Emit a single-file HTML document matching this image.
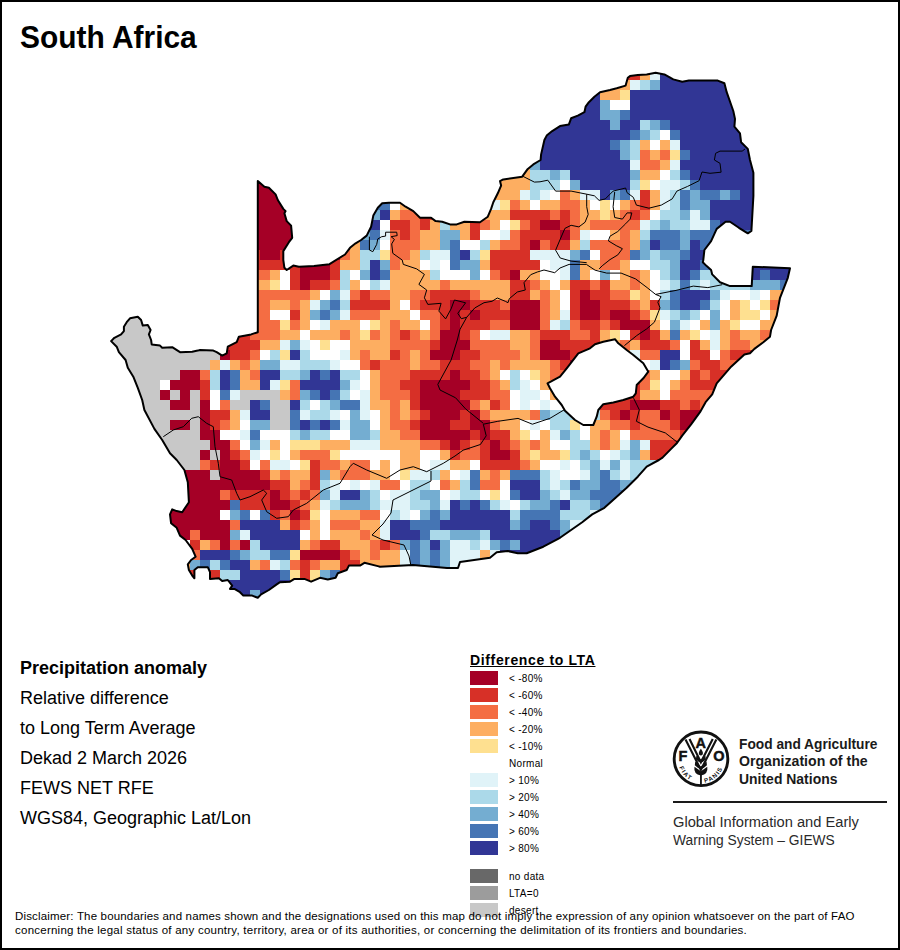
<!DOCTYPE html>
<html><head><meta charset="utf-8">
<style>
html,body{margin:0;padding:0;background:#fff;}
body{width:900px;height:950px;position:relative;overflow:hidden;font-family:"Liberation Sans",sans-serif;color:#000;}
.frame{position:absolute;left:0;top:0;width:896px;height:946px;border:2px solid #000;}
.t{position:absolute;white-space:nowrap;line-height:1;}
.sw{position:absolute;left:470px;width:28px;height:14px;}
.lab{position:absolute;left:509px;font-size:10px;letter-spacing:0.3px;white-space:nowrap;line-height:1;}
</style></head><body>
<div class="frame"></div>
<div class="t" style="left:20px;top:22px;font-size:31px;font-weight:bold;transform:scaleX(0.965);transform-origin:0 0;">South Africa</div>
<svg width="900" height="950" style="position:absolute;left:0;top:0">
<defs><clipPath id="cp"><path clip-rule="evenodd" d="M111.1,341.1 L114.4,337.8 L121.1,334.4 L123.9,331.1 L123.9,326.7 L126.7,322.2 L130.0,318.3 L137.8,316.7 L141.1,320.0 L142.8,325.6 L147.8,325.0 L150.6,330.0 L148.9,334.4 L151.1,340.0 L151.7,344.4 L160.0,345.6 L162.2,347.8 L172.2,347.2 L180.0,352.2 L192.2,351.7 L197.8,350.6 L200.0,350.0 L213.3,350.6 L216.7,352.2 L222.2,355.6 L226.7,353.3 L227.8,346.7 L236.7,342.2 L238.9,336.7 L251.1,334.4 L257.8,332.2 L257.8,181.1 L264.4,186.7 L268.9,187.8 L275.6,194.4 L277.8,200.0 L283.3,208.9 L285.6,211.1 L284.4,213.3 L286.7,221.1 L291.1,225.6 L292.2,237.8 L288.9,242.2 L283.3,251.1 L283.3,260.0 L284.4,267.8 L286.7,270.0 L293.3,265.6 L298.9,266.7 L314.0,266.0 L329.5,264.2 L345.0,254.5 L350.0,247.8 L355.6,243.3 L361.1,240.0 L366.7,235.6 L371.1,226.7 L373.3,215.6 L377.8,207.8 L382.2,203.3 L388.9,202.8 L400.0,202.8 L405.6,206.7 L413.3,211.1 L420.0,217.8 L431.1,217.8 L435.6,221.1 L442.2,221.7 L450.0,224.4 L456.7,224.4 L464.4,221.7 L480.0,222.2 L487.8,216.7 L491.1,208.9 L493.3,202.2 L497.8,193.3 L501.1,185.6 L500.0,181.1 L503.3,179.4 L522.2,176.7 L527.8,168.9 L533.3,164.4 L540.6,160.0 L541.1,154.4 L544.4,140.0 L546.7,135.6 L552.2,131.1 L560.0,126.1 L568.9,124.4 L571.1,118.3 L577.8,115.6 L584.4,112.2 L585.6,106.7 L588.9,102.2 L594.4,96.7 L600.0,92.2 L610.0,90.0 L616.7,88.3 L625.6,85.6 L627.8,77.8 L630.0,76.1 L637.8,75.0 L646.7,74.4 L655.6,72.8 L664.4,74.4 L673.3,79.4 L682.2,81.7 L688.9,80.6 L700.0,80.6 L710.0,80.5 L717.8,80.6 L724.4,83.3 L726.7,92.2 L733.3,111.0 L735.0,118.9 L734.4,126.7 L740.0,133.3 L741.1,142.2 L747.8,148.9 L750.0,160.0 L753.4,172.8 L753.4,196.0 L751.4,231.0 L747.8,233.3 L738.9,227.8 L730.0,221.7 L725.6,221.7 L716.7,228.9 L711.1,241.1 L704.4,250.0 L703.3,260.0 L702.8,262.2 L706.7,266.1 L711.1,270.0 L712.2,274.4 L720.0,282.2 L730.0,286.1 L751.7,286.1 L752.8,266.7 L790.0,268.3 L787.8,277.8 L780.0,297.8 L776.7,315.6 L771.1,330.0 L770.0,336.7 L763.3,342.2 L754.4,348.9 L750.0,353.3 L744.4,354.4 L731.1,366.7 L716.7,383.3 L712.2,394.4 L705.6,402.2 L700.0,412.2 L691.1,424.4 L682.2,435.6 L677.0,443.0 L671.1,448.9 L662.5,457.6 L658.9,460.0 L646.7,466.7 L637.8,476.7 L626.7,487.8 L615.6,497.8 L604.4,507.8 L592.2,514.4 L582.2,522.2 L571.1,530.0 L560.0,537.8 L543.3,546.7 L526.7,553.3 L517.8,553.3 L507.8,551.1 L496.7,552.2 L490.0,557.8 L460.0,562.0 L458.0,568.0 L447.0,568.0 L413.0,565.0 L380.0,566.7 L377.8,566.1 L364.4,562.8 L360.0,565.6 L348.9,565.6 L346.7,570.0 L337.8,573.3 L335.6,577.8 L327.8,579.4 L320.0,577.8 L311.1,581.7 L304.4,578.9 L294.4,578.9 L290.0,581.7 L280.0,582.2 L276.7,584.4 L268.9,590.0 L261.1,594.4 L257.8,597.8 L252.2,595.6 L243.3,595.6 L240.0,592.2 L234.4,588.9 L230.0,588.9 L232.2,585.6 L227.8,580.0 L222.2,581.1 L218.9,578.3 L210.0,578.9 L210.0,572.2 L207.8,567.2 L197.8,567.2 L194.4,570.0 L194.4,578.3 L192.2,575.6 L188.9,570.0 L187.8,564.4 L191.1,560.0 L195.6,556.7 L192.2,548.9 L185.6,540.0 L180.0,535.6 L176.7,527.8 L171.1,523.3 L170.0,514.4 L172.2,509.4 L176.7,511.1 L182.2,512.2 L188.9,502.2 L187.8,482.2 L184.4,470.0 L176.7,460.0 L170.0,453.3 L162.2,440.0 L154.4,428.9 L144.4,410.0 L142.2,400.0 L137.8,387.8 L133.3,376.7 L127.8,367.8 L125.6,360.0 L118.9,352.2 L116.7,346.7 Z M547.5,383.3 L560.0,376.7 L566.7,368.3 L578.3,353.3 L590.0,348.3 L595.0,344.2 L603.3,341.7 L615.0,339.2 L618.3,343.3 L626.7,350.0 L633.3,355.0 L643.3,363.3 L648.3,371.7 L643.3,378.3 L636.7,385.0 L635.8,393.3 L633.3,396.7 L623.3,400.0 L613.3,402.5 L603.3,404.2 L598.3,410.0 L596.7,416.7 L593.3,425.0 L583.3,425.0 L575.0,420.0 L565.0,410.8 L561.7,405.0 L555.0,396.7 L550.0,388.3 Z"/></clipPath></defs>
<g clip-path="url(#cp)" shape-rendering="crispEdges"><rect x="100" y="60" width="250" height="10" fill="#a50026"/><rect x="350" y="60" width="40" height="10" fill="#4575b4"/><rect x="390" y="60" width="10" height="10" fill="#ffffff"/><rect x="400" y="60" width="400" height="10" fill="#313695"/><rect x="100" y="70" width="250" height="10" fill="#a50026"/><rect x="350" y="70" width="40" height="10" fill="#4575b4"/><rect x="390" y="70" width="10" height="10" fill="#ffffff"/><rect x="400" y="70" width="10" height="10" fill="#fdae61"/><rect x="410" y="70" width="190" height="10" fill="#313695"/><rect x="600" y="70" width="20" height="10" fill="#fdae61"/><rect x="620" y="70" width="20" height="10" fill="#d73027"/><rect x="640" y="70" width="10" height="10" fill="#fdae61"/><rect x="650" y="70" width="10" height="10" fill="#e0f3f8"/><rect x="660" y="70" width="140" height="10" fill="#313695"/><rect x="100" y="80" width="250" height="10" fill="#a50026"/><rect x="350" y="80" width="40" height="10" fill="#4575b4"/><rect x="390" y="80" width="10" height="10" fill="#ffffff"/><rect x="400" y="80" width="20" height="10" fill="#fdae61"/><rect x="420" y="80" width="180" height="10" fill="#313695"/><rect x="600" y="80" width="30" height="10" fill="#fdae61"/><rect x="630" y="80" width="10" height="10" fill="#e0f3f8"/><rect x="640" y="80" width="10" height="10" fill="#abd9e9"/><rect x="650" y="80" width="10" height="10" fill="#74add1"/><rect x="660" y="80" width="140" height="10" fill="#313695"/><rect x="100" y="90" width="250" height="10" fill="#a50026"/><rect x="350" y="90" width="40" height="10" fill="#4575b4"/><rect x="390" y="90" width="10" height="10" fill="#ffffff"/><rect x="400" y="90" width="30" height="10" fill="#fdae61"/><rect x="430" y="90" width="170" height="10" fill="#313695"/><rect x="600" y="90" width="20" height="10" fill="#fdae61"/><rect x="620" y="90" width="10" height="10" fill="#fee090"/><rect x="630" y="90" width="170" height="10" fill="#313695"/><rect x="100" y="100" width="250" height="10" fill="#a50026"/><rect x="350" y="100" width="40" height="10" fill="#4575b4"/><rect x="390" y="100" width="10" height="10" fill="#ffffff"/><rect x="400" y="100" width="40" height="10" fill="#fdae61"/><rect x="440" y="100" width="160" height="10" fill="#313695"/><rect x="600" y="100" width="10" height="10" fill="#74add1"/><rect x="610" y="100" width="20" height="10" fill="#ffffff"/><rect x="630" y="100" width="170" height="10" fill="#313695"/><rect x="100" y="110" width="250" height="10" fill="#a50026"/><rect x="350" y="110" width="40" height="10" fill="#4575b4"/><rect x="390" y="110" width="10" height="10" fill="#ffffff"/><rect x="400" y="110" width="50" height="10" fill="#fdae61"/><rect x="450" y="110" width="150" height="10" fill="#313695"/><rect x="600" y="110" width="20" height="10" fill="#74add1"/><rect x="620" y="110" width="10" height="10" fill="#4575b4"/><rect x="630" y="110" width="170" height="10" fill="#313695"/><rect x="100" y="120" width="250" height="10" fill="#a50026"/><rect x="350" y="120" width="40" height="10" fill="#4575b4"/><rect x="390" y="120" width="10" height="10" fill="#ffffff"/><rect x="400" y="120" width="60" height="10" fill="#fdae61"/><rect x="460" y="120" width="150" height="10" fill="#313695"/><rect x="610" y="120" width="10" height="10" fill="#74add1"/><rect x="620" y="120" width="20" height="10" fill="#313695"/><rect x="640" y="120" width="10" height="10" fill="#abd9e9"/><rect x="650" y="120" width="10" height="10" fill="#74add1"/><rect x="660" y="120" width="10" height="10" fill="#4575b4"/><rect x="670" y="120" width="130" height="10" fill="#313695"/><rect x="100" y="130" width="250" height="10" fill="#a50026"/><rect x="350" y="130" width="40" height="10" fill="#4575b4"/><rect x="390" y="130" width="10" height="10" fill="#ffffff"/><rect x="400" y="130" width="70" height="10" fill="#fdae61"/><rect x="470" y="130" width="160" height="10" fill="#313695"/><rect x="630" y="130" width="10" height="10" fill="#4575b4"/><rect x="640" y="130" width="10" height="10" fill="#74add1"/><rect x="650" y="130" width="10" height="10" fill="#abd9e9"/><rect x="660" y="130" width="10" height="10" fill="#ffffff"/><rect x="670" y="130" width="10" height="10" fill="#4575b4"/><rect x="680" y="130" width="120" height="10" fill="#313695"/><rect x="100" y="140" width="250" height="10" fill="#a50026"/><rect x="350" y="140" width="40" height="10" fill="#4575b4"/><rect x="390" y="140" width="10" height="10" fill="#ffffff"/><rect x="400" y="140" width="80" height="10" fill="#fdae61"/><rect x="480" y="140" width="130" height="10" fill="#313695"/><rect x="610" y="140" width="10" height="10" fill="#4575b4"/><rect x="620" y="140" width="10" height="10" fill="#74add1"/><rect x="630" y="140" width="10" height="10" fill="#abd9e9"/><rect x="640" y="140" width="10" height="10" fill="#fdae61"/><rect x="650" y="140" width="10" height="10" fill="#ffffff"/><rect x="660" y="140" width="10" height="10" fill="#fdae61"/><rect x="670" y="140" width="10" height="10" fill="#e0f3f8"/><rect x="680" y="140" width="120" height="10" fill="#313695"/><rect x="100" y="150" width="10" height="10" fill="#d73027"/><rect x="110" y="150" width="240" height="10" fill="#a50026"/><rect x="350" y="150" width="40" height="10" fill="#4575b4"/><rect x="390" y="150" width="10" height="10" fill="#ffffff"/><rect x="400" y="150" width="90" height="10" fill="#fdae61"/><rect x="490" y="150" width="130" height="10" fill="#313695"/><rect x="620" y="150" width="10" height="10" fill="#74add1"/><rect x="630" y="150" width="10" height="10" fill="#abd9e9"/><rect x="640" y="150" width="10" height="10" fill="#f46d43"/><rect x="650" y="150" width="10" height="10" fill="#fdae61"/><rect x="660" y="150" width="10" height="10" fill="#f46d43"/><rect x="670" y="150" width="10" height="10" fill="#fee090"/><rect x="680" y="150" width="10" height="10" fill="#4575b4"/><rect x="690" y="150" width="110" height="10" fill="#313695"/><rect x="100" y="160" width="30" height="10" fill="#d73027"/><rect x="130" y="160" width="220" height="10" fill="#a50026"/><rect x="350" y="160" width="40" height="10" fill="#4575b4"/><rect x="390" y="160" width="10" height="10" fill="#ffffff"/><rect x="400" y="160" width="130" height="10" fill="#fdae61"/><rect x="530" y="160" width="10" height="10" fill="#74add1"/><rect x="540" y="160" width="90" height="10" fill="#313695"/><rect x="630" y="160" width="10" height="10" fill="#e0f3f8"/><rect x="640" y="160" width="20" height="10" fill="#f46d43"/><rect x="660" y="160" width="10" height="10" fill="#fdae61"/><rect x="670" y="160" width="10" height="10" fill="#e0f3f8"/><rect x="680" y="160" width="120" height="10" fill="#313695"/><rect x="100" y="170" width="50" height="10" fill="#d73027"/><rect x="150" y="170" width="200" height="10" fill="#a50026"/><rect x="350" y="170" width="40" height="10" fill="#4575b4"/><rect x="390" y="170" width="10" height="10" fill="#ffffff"/><rect x="400" y="170" width="130" height="10" fill="#fdae61"/><rect x="530" y="170" width="20" height="10" fill="#abd9e9"/><rect x="550" y="170" width="10" height="10" fill="#74add1"/><rect x="560" y="170" width="10" height="10" fill="#abd9e9"/><rect x="570" y="170" width="60" height="10" fill="#313695"/><rect x="630" y="170" width="10" height="10" fill="#74add1"/><rect x="640" y="170" width="20" height="10" fill="#fdae61"/><rect x="660" y="170" width="10" height="10" fill="#ffffff"/><rect x="670" y="170" width="10" height="10" fill="#abd9e9"/><rect x="680" y="170" width="10" height="10" fill="#4575b4"/><rect x="690" y="170" width="110" height="10" fill="#313695"/><rect x="100" y="180" width="70" height="10" fill="#d73027"/><rect x="170" y="180" width="180" height="10" fill="#a50026"/><rect x="350" y="180" width="40" height="10" fill="#4575b4"/><rect x="390" y="180" width="10" height="10" fill="#ffffff"/><rect x="400" y="180" width="130" height="10" fill="#fdae61"/><rect x="530" y="180" width="30" height="10" fill="#abd9e9"/><rect x="560" y="180" width="10" height="10" fill="#ffffff"/><rect x="570" y="180" width="10" height="10" fill="#74add1"/><rect x="580" y="180" width="50" height="10" fill="#313695"/><rect x="630" y="180" width="10" height="10" fill="#abd9e9"/><rect x="640" y="180" width="10" height="10" fill="#fee090"/><rect x="650" y="180" width="10" height="10" fill="#ffffff"/><rect x="660" y="180" width="20" height="10" fill="#e0f3f8"/><rect x="680" y="180" width="10" height="10" fill="#abd9e9"/><rect x="690" y="180" width="10" height="10" fill="#4575b4"/><rect x="700" y="180" width="100" height="10" fill="#313695"/><rect x="100" y="190" width="10" height="10" fill="#c8c8c8"/><rect x="110" y="190" width="70" height="10" fill="#d73027"/><rect x="180" y="190" width="170" height="10" fill="#a50026"/><rect x="350" y="190" width="40" height="10" fill="#4575b4"/><rect x="390" y="190" width="10" height="10" fill="#ffffff"/><rect x="400" y="190" width="120" height="10" fill="#fdae61"/><rect x="520" y="190" width="10" height="10" fill="#e0f3f8"/><rect x="530" y="190" width="10" height="10" fill="#abd9e9"/><rect x="540" y="190" width="10" height="10" fill="#e0f3f8"/><rect x="550" y="190" width="10" height="10" fill="#ffffff"/><rect x="560" y="190" width="10" height="10" fill="#f46d43"/><rect x="570" y="190" width="10" height="10" fill="#fdae61"/><rect x="580" y="190" width="20" height="10" fill="#e0f3f8"/><rect x="600" y="190" width="10" height="10" fill="#313695"/><rect x="610" y="190" width="10" height="10" fill="#74add1"/><rect x="620" y="190" width="10" height="10" fill="#4575b4"/><rect x="630" y="190" width="10" height="10" fill="#e0f3f8"/><rect x="640" y="190" width="10" height="10" fill="#d73027"/><rect x="650" y="190" width="10" height="10" fill="#fdae61"/><rect x="660" y="190" width="10" height="10" fill="#e0f3f8"/><rect x="670" y="190" width="10" height="10" fill="#abd9e9"/><rect x="680" y="190" width="10" height="10" fill="#4575b4"/><rect x="690" y="190" width="10" height="10" fill="#74add1"/><rect x="700" y="190" width="20" height="10" fill="#4575b4"/><rect x="720" y="190" width="10" height="10" fill="#74add1"/><rect x="730" y="190" width="10" height="10" fill="#4575b4"/><rect x="740" y="190" width="60" height="10" fill="#313695"/><rect x="100" y="200" width="10" height="10" fill="#c8c8c8"/><rect x="110" y="200" width="80" height="10" fill="#d73027"/><rect x="190" y="200" width="160" height="10" fill="#a50026"/><rect x="350" y="200" width="40" height="10" fill="#4575b4"/><rect x="390" y="200" width="10" height="10" fill="#ffffff"/><rect x="400" y="200" width="90" height="10" fill="#fdae61"/><rect x="490" y="200" width="10" height="10" fill="#e0f3f8"/><rect x="500" y="200" width="10" height="10" fill="#fee090"/><rect x="510" y="200" width="10" height="10" fill="#f46d43"/><rect x="520" y="200" width="10" height="10" fill="#fdae61"/><rect x="530" y="200" width="10" height="10" fill="#ffffff"/><rect x="540" y="200" width="20" height="10" fill="#fdae61"/><rect x="560" y="200" width="20" height="10" fill="#f46d43"/><rect x="580" y="200" width="10" height="10" fill="#fdae61"/><rect x="590" y="200" width="10" height="10" fill="#ffffff"/><rect x="600" y="200" width="10" height="10" fill="#fee090"/><rect x="610" y="200" width="10" height="10" fill="#ffffff"/><rect x="620" y="200" width="10" height="10" fill="#fdae61"/><rect x="630" y="200" width="10" height="10" fill="#f46d43"/><rect x="640" y="200" width="10" height="10" fill="#d73027"/><rect x="650" y="200" width="10" height="10" fill="#fdae61"/><rect x="660" y="200" width="10" height="10" fill="#e0f3f8"/><rect x="670" y="200" width="10" height="10" fill="#abd9e9"/><rect x="680" y="200" width="10" height="10" fill="#4575b4"/><rect x="690" y="200" width="20" height="10" fill="#74add1"/><rect x="710" y="200" width="80" height="10" fill="#313695"/><rect x="790" y="200" width="10" height="10" fill="#4575b4"/><rect x="100" y="210" width="20" height="10" fill="#c8c8c8"/><rect x="120" y="210" width="80" height="10" fill="#d73027"/><rect x="200" y="210" width="150" height="10" fill="#a50026"/><rect x="350" y="210" width="30" height="10" fill="#74add1"/><rect x="380" y="210" width="10" height="10" fill="#313695"/><rect x="390" y="210" width="10" height="10" fill="#fdae61"/><rect x="400" y="210" width="20" height="10" fill="#f46d43"/><rect x="420" y="210" width="30" height="10" fill="#d73027"/><rect x="450" y="210" width="60" height="10" fill="#fdae61"/><rect x="510" y="210" width="40" height="10" fill="#d73027"/><rect x="550" y="210" width="10" height="10" fill="#f46d43"/><rect x="560" y="210" width="10" height="10" fill="#d73027"/><rect x="570" y="210" width="10" height="10" fill="#f46d43"/><rect x="580" y="210" width="20" height="10" fill="#fdae61"/><rect x="600" y="210" width="10" height="10" fill="#fee090"/><rect x="610" y="210" width="10" height="10" fill="#fdae61"/><rect x="620" y="210" width="10" height="10" fill="#f46d43"/><rect x="630" y="210" width="10" height="10" fill="#d73027"/><rect x="640" y="210" width="10" height="10" fill="#f46d43"/><rect x="650" y="210" width="10" height="10" fill="#ffffff"/><rect x="660" y="210" width="20" height="10" fill="#abd9e9"/><rect x="680" y="210" width="10" height="10" fill="#74add1"/><rect x="690" y="210" width="10" height="10" fill="#e0f3f8"/><rect x="700" y="210" width="10" height="10" fill="#74add1"/><rect x="710" y="210" width="70" height="10" fill="#313695"/><rect x="780" y="210" width="20" height="10" fill="#4575b4"/><rect x="100" y="220" width="20" height="10" fill="#c8c8c8"/><rect x="120" y="220" width="90" height="10" fill="#d73027"/><rect x="210" y="220" width="140" height="10" fill="#a50026"/><rect x="350" y="220" width="20" height="10" fill="#74add1"/><rect x="370" y="220" width="10" height="10" fill="#313695"/><rect x="380" y="220" width="10" height="10" fill="#ffffff"/><rect x="390" y="220" width="20" height="10" fill="#d73027"/><rect x="410" y="220" width="10" height="10" fill="#f46d43"/><rect x="420" y="220" width="10" height="10" fill="#d73027"/><rect x="430" y="220" width="10" height="10" fill="#fdae61"/><rect x="440" y="220" width="10" height="10" fill="#abd9e9"/><rect x="450" y="220" width="20" height="10" fill="#fdae61"/><rect x="470" y="220" width="10" height="10" fill="#d73027"/><rect x="480" y="220" width="10" height="10" fill="#f46d43"/><rect x="490" y="220" width="10" height="10" fill="#fdae61"/><rect x="500" y="220" width="10" height="10" fill="#ffffff"/><rect x="510" y="220" width="10" height="10" fill="#fee090"/><rect x="520" y="220" width="10" height="10" fill="#f46d43"/><rect x="530" y="220" width="10" height="10" fill="#d73027"/><rect x="540" y="220" width="20" height="10" fill="#a50026"/><rect x="560" y="220" width="10" height="10" fill="#d73027"/><rect x="570" y="220" width="10" height="10" fill="#f46d43"/><rect x="580" y="220" width="10" height="10" fill="#fdae61"/><rect x="590" y="220" width="50" height="10" fill="#f46d43"/><rect x="640" y="220" width="10" height="10" fill="#e0f3f8"/><rect x="650" y="220" width="10" height="10" fill="#abd9e9"/><rect x="660" y="220" width="10" height="10" fill="#74add1"/><rect x="670" y="220" width="20" height="10" fill="#abd9e9"/><rect x="690" y="220" width="20" height="10" fill="#e0f3f8"/><rect x="710" y="220" width="10" height="10" fill="#4575b4"/><rect x="720" y="220" width="50" height="10" fill="#313695"/><rect x="770" y="220" width="30" height="10" fill="#4575b4"/><rect x="100" y="230" width="30" height="10" fill="#c8c8c8"/><rect x="130" y="230" width="90" height="10" fill="#d73027"/><rect x="220" y="230" width="130" height="10" fill="#a50026"/><rect x="350" y="230" width="20" height="10" fill="#74add1"/><rect x="370" y="230" width="10" height="10" fill="#4575b4"/><rect x="380" y="230" width="10" height="10" fill="#e0f3f8"/><rect x="390" y="230" width="10" height="10" fill="#f46d43"/><rect x="400" y="230" width="10" height="10" fill="#d73027"/><rect x="410" y="230" width="10" height="10" fill="#f46d43"/><rect x="420" y="230" width="20" height="10" fill="#fdae61"/><rect x="440" y="230" width="20" height="10" fill="#74add1"/><rect x="460" y="230" width="10" height="10" fill="#fdae61"/><rect x="470" y="230" width="10" height="10" fill="#d73027"/><rect x="480" y="230" width="20" height="10" fill="#ffffff"/><rect x="500" y="230" width="10" height="10" fill="#e0f3f8"/><rect x="510" y="230" width="10" height="10" fill="#f46d43"/><rect x="520" y="230" width="40" height="10" fill="#d73027"/><rect x="560" y="230" width="10" height="10" fill="#a50026"/><rect x="570" y="230" width="10" height="10" fill="#f46d43"/><rect x="580" y="230" width="10" height="10" fill="#e0f3f8"/><rect x="590" y="230" width="20" height="10" fill="#ffffff"/><rect x="610" y="230" width="10" height="10" fill="#fdae61"/><rect x="620" y="230" width="10" height="10" fill="#f46d43"/><rect x="630" y="230" width="10" height="10" fill="#fdae61"/><rect x="640" y="230" width="10" height="10" fill="#abd9e9"/><rect x="650" y="230" width="30" height="10" fill="#4575b4"/><rect x="680" y="230" width="10" height="10" fill="#74add1"/><rect x="690" y="230" width="110" height="10" fill="#4575b4"/><rect x="100" y="240" width="40" height="10" fill="#c8c8c8"/><rect x="140" y="240" width="90" height="10" fill="#d73027"/><rect x="230" y="240" width="120" height="10" fill="#a50026"/><rect x="350" y="240" width="10" height="10" fill="#fdae61"/><rect x="360" y="240" width="10" height="10" fill="#4575b4"/><rect x="370" y="240" width="10" height="10" fill="#74add1"/><rect x="380" y="240" width="10" height="10" fill="#ffffff"/><rect x="390" y="240" width="30" height="10" fill="#f46d43"/><rect x="420" y="240" width="20" height="10" fill="#fdae61"/><rect x="440" y="240" width="10" height="10" fill="#74add1"/><rect x="450" y="240" width="10" height="10" fill="#4575b4"/><rect x="460" y="240" width="20" height="10" fill="#ffffff"/><rect x="480" y="240" width="10" height="10" fill="#abd9e9"/><rect x="490" y="240" width="10" height="10" fill="#fdae61"/><rect x="500" y="240" width="20" height="10" fill="#f46d43"/><rect x="520" y="240" width="10" height="10" fill="#d73027"/><rect x="530" y="240" width="10" height="10" fill="#a50026"/><rect x="540" y="240" width="10" height="10" fill="#f46d43"/><rect x="550" y="240" width="20" height="10" fill="#d73027"/><rect x="570" y="240" width="10" height="10" fill="#fdae61"/><rect x="580" y="240" width="10" height="10" fill="#abd9e9"/><rect x="590" y="240" width="40" height="10" fill="#f46d43"/><rect x="630" y="240" width="10" height="10" fill="#fdae61"/><rect x="640" y="240" width="10" height="10" fill="#74add1"/><rect x="650" y="240" width="10" height="10" fill="#313695"/><rect x="660" y="240" width="20" height="10" fill="#4575b4"/><rect x="680" y="240" width="10" height="10" fill="#74add1"/><rect x="690" y="240" width="10" height="10" fill="#313695"/><rect x="700" y="240" width="100" height="10" fill="#4575b4"/><rect x="100" y="250" width="50" height="10" fill="#c8c8c8"/><rect x="150" y="250" width="110" height="10" fill="#d73027"/><rect x="260" y="250" width="20" height="10" fill="#a50026"/><rect x="280" y="250" width="10" height="10" fill="#d73027"/><rect x="290" y="250" width="50" height="10" fill="#a50026"/><rect x="340" y="250" width="10" height="10" fill="#f46d43"/><rect x="350" y="250" width="10" height="10" fill="#fdae61"/><rect x="360" y="250" width="20" height="10" fill="#abd9e9"/><rect x="380" y="250" width="10" height="10" fill="#fee090"/><rect x="390" y="250" width="20" height="10" fill="#f46d43"/><rect x="410" y="250" width="10" height="10" fill="#fdae61"/><rect x="420" y="250" width="10" height="10" fill="#abd9e9"/><rect x="430" y="250" width="20" height="10" fill="#e0f3f8"/><rect x="450" y="250" width="10" height="10" fill="#4575b4"/><rect x="460" y="250" width="10" height="10" fill="#313695"/><rect x="470" y="250" width="10" height="10" fill="#abd9e9"/><rect x="480" y="250" width="10" height="10" fill="#fee090"/><rect x="490" y="250" width="40" height="10" fill="#d73027"/><rect x="530" y="250" width="40" height="10" fill="#e0f3f8"/><rect x="570" y="250" width="10" height="10" fill="#74add1"/><rect x="580" y="250" width="10" height="10" fill="#4575b4"/><rect x="590" y="250" width="10" height="10" fill="#ffffff"/><rect x="600" y="250" width="30" height="10" fill="#f46d43"/><rect x="630" y="250" width="10" height="10" fill="#4575b4"/><rect x="640" y="250" width="10" height="10" fill="#74add1"/><rect x="650" y="250" width="10" height="10" fill="#abd9e9"/><rect x="660" y="250" width="20" height="10" fill="#74add1"/><rect x="680" y="250" width="10" height="10" fill="#4575b4"/><rect x="690" y="250" width="110" height="10" fill="#313695"/><rect x="100" y="260" width="50" height="10" fill="#c8c8c8"/><rect x="150" y="260" width="150" height="10" fill="#d73027"/><rect x="300" y="260" width="30" height="10" fill="#a50026"/><rect x="330" y="260" width="10" height="10" fill="#d73027"/><rect x="340" y="260" width="20" height="10" fill="#fdae61"/><rect x="360" y="260" width="10" height="10" fill="#abd9e9"/><rect x="370" y="260" width="10" height="10" fill="#313695"/><rect x="380" y="260" width="10" height="10" fill="#74add1"/><rect x="390" y="260" width="10" height="10" fill="#f46d43"/><rect x="400" y="260" width="20" height="10" fill="#fdae61"/><rect x="420" y="260" width="10" height="10" fill="#ffffff"/><rect x="430" y="260" width="10" height="10" fill="#e0f3f8"/><rect x="440" y="260" width="10" height="10" fill="#ffffff"/><rect x="450" y="260" width="10" height="10" fill="#4575b4"/><rect x="460" y="260" width="20" height="10" fill="#74add1"/><rect x="480" y="260" width="10" height="10" fill="#fdae61"/><rect x="490" y="260" width="50" height="10" fill="#d73027"/><rect x="540" y="260" width="10" height="10" fill="#ffffff"/><rect x="550" y="260" width="20" height="10" fill="#e0f3f8"/><rect x="570" y="260" width="10" height="10" fill="#4575b4"/><rect x="580" y="260" width="20" height="10" fill="#fdae61"/><rect x="600" y="260" width="20" height="10" fill="#f46d43"/><rect x="620" y="260" width="10" height="10" fill="#fdae61"/><rect x="630" y="260" width="20" height="10" fill="#ffffff"/><rect x="650" y="260" width="20" height="10" fill="#abd9e9"/><rect x="670" y="260" width="10" height="10" fill="#74add1"/><rect x="680" y="260" width="20" height="10" fill="#313695"/><rect x="700" y="260" width="20" height="10" fill="#4575b4"/><rect x="720" y="260" width="80" height="10" fill="#313695"/><rect x="100" y="270" width="60" height="10" fill="#c8c8c8"/><rect x="160" y="270" width="110" height="10" fill="#f46d43"/><rect x="270" y="270" width="10" height="10" fill="#fdae61"/><rect x="280" y="270" width="10" height="10" fill="#ffffff"/><rect x="290" y="270" width="10" height="10" fill="#d73027"/><rect x="300" y="270" width="30" height="10" fill="#a50026"/><rect x="330" y="270" width="10" height="10" fill="#d73027"/><rect x="340" y="270" width="10" height="10" fill="#abd9e9"/><rect x="350" y="270" width="10" height="10" fill="#ffffff"/><rect x="360" y="270" width="10" height="10" fill="#74add1"/><rect x="370" y="270" width="10" height="10" fill="#313695"/><rect x="380" y="270" width="10" height="10" fill="#4575b4"/><rect x="390" y="270" width="40" height="10" fill="#fdae61"/><rect x="430" y="270" width="10" height="10" fill="#abd9e9"/><rect x="440" y="270" width="30" height="10" fill="#ffffff"/><rect x="470" y="270" width="10" height="10" fill="#74add1"/><rect x="480" y="270" width="10" height="10" fill="#ffffff"/><rect x="490" y="270" width="10" height="10" fill="#f46d43"/><rect x="500" y="270" width="10" height="10" fill="#d73027"/><rect x="510" y="270" width="10" height="10" fill="#a50026"/><rect x="520" y="270" width="20" height="10" fill="#fdae61"/><rect x="540" y="270" width="20" height="10" fill="#ffffff"/><rect x="560" y="270" width="10" height="10" fill="#e0f3f8"/><rect x="570" y="270" width="10" height="10" fill="#4575b4"/><rect x="580" y="270" width="10" height="10" fill="#fdae61"/><rect x="590" y="270" width="10" height="10" fill="#ffffff"/><rect x="600" y="270" width="10" height="10" fill="#74add1"/><rect x="610" y="270" width="10" height="10" fill="#ffffff"/><rect x="620" y="270" width="10" height="10" fill="#fdae61"/><rect x="630" y="270" width="10" height="10" fill="#f46d43"/><rect x="640" y="270" width="10" height="10" fill="#fdae61"/><rect x="650" y="270" width="10" height="10" fill="#ffffff"/><rect x="660" y="270" width="10" height="10" fill="#abd9e9"/><rect x="670" y="270" width="10" height="10" fill="#74add1"/><rect x="680" y="270" width="10" height="10" fill="#313695"/><rect x="690" y="270" width="10" height="10" fill="#4575b4"/><rect x="700" y="270" width="20" height="10" fill="#abd9e9"/><rect x="720" y="270" width="30" height="10" fill="#4575b4"/><rect x="750" y="270" width="10" height="10" fill="#313695"/><rect x="760" y="270" width="10" height="10" fill="#4575b4"/><rect x="770" y="270" width="30" height="10" fill="#313695"/><rect x="100" y="280" width="70" height="10" fill="#c8c8c8"/><rect x="170" y="280" width="100" height="10" fill="#fdae61"/><rect x="270" y="280" width="10" height="10" fill="#fee090"/><rect x="280" y="280" width="10" height="10" fill="#ffffff"/><rect x="290" y="280" width="10" height="10" fill="#d73027"/><rect x="300" y="280" width="10" height="10" fill="#a50026"/><rect x="310" y="280" width="20" height="10" fill="#d73027"/><rect x="330" y="280" width="10" height="10" fill="#f46d43"/><rect x="340" y="280" width="10" height="10" fill="#abd9e9"/><rect x="350" y="280" width="10" height="10" fill="#fdae61"/><rect x="360" y="280" width="10" height="10" fill="#ffffff"/><rect x="370" y="280" width="10" height="10" fill="#abd9e9"/><rect x="380" y="280" width="10" height="10" fill="#e0f3f8"/><rect x="390" y="280" width="50" height="10" fill="#fdae61"/><rect x="440" y="280" width="10" height="10" fill="#f46d43"/><rect x="450" y="280" width="60" height="10" fill="#fdae61"/><rect x="510" y="280" width="20" height="10" fill="#d73027"/><rect x="530" y="280" width="10" height="10" fill="#f46d43"/><rect x="540" y="280" width="10" height="10" fill="#fdae61"/><rect x="550" y="280" width="10" height="10" fill="#ffffff"/><rect x="560" y="280" width="10" height="10" fill="#fdae61"/><rect x="570" y="280" width="20" height="10" fill="#d73027"/><rect x="590" y="280" width="10" height="10" fill="#f46d43"/><rect x="600" y="280" width="10" height="10" fill="#d73027"/><rect x="610" y="280" width="20" height="10" fill="#fdae61"/><rect x="630" y="280" width="10" height="10" fill="#f46d43"/><rect x="640" y="280" width="10" height="10" fill="#fdae61"/><rect x="650" y="280" width="10" height="10" fill="#ffffff"/><rect x="660" y="280" width="10" height="10" fill="#e0f3f8"/><rect x="670" y="280" width="10" height="10" fill="#abd9e9"/><rect x="680" y="280" width="10" height="10" fill="#4575b4"/><rect x="690" y="280" width="10" height="10" fill="#abd9e9"/><rect x="700" y="280" width="10" height="10" fill="#e0f3f8"/><rect x="710" y="280" width="40" height="10" fill="#abd9e9"/><rect x="750" y="280" width="30" height="10" fill="#74add1"/><rect x="780" y="280" width="20" height="10" fill="#4575b4"/><rect x="100" y="290" width="80" height="10" fill="#c8c8c8"/><rect x="180" y="290" width="130" height="10" fill="#f46d43"/><rect x="310" y="290" width="10" height="10" fill="#fdae61"/><rect x="320" y="290" width="10" height="10" fill="#ffffff"/><rect x="330" y="290" width="10" height="10" fill="#74add1"/><rect x="340" y="290" width="10" height="10" fill="#e0f3f8"/><rect x="350" y="290" width="10" height="10" fill="#f46d43"/><rect x="360" y="290" width="10" height="10" fill="#d73027"/><rect x="370" y="290" width="20" height="10" fill="#f46d43"/><rect x="390" y="290" width="20" height="10" fill="#fdae61"/><rect x="410" y="290" width="20" height="10" fill="#f46d43"/><rect x="430" y="290" width="40" height="10" fill="#d73027"/><rect x="470" y="290" width="10" height="10" fill="#f46d43"/><rect x="480" y="290" width="30" height="10" fill="#fdae61"/><rect x="510" y="290" width="20" height="10" fill="#d73027"/><rect x="530" y="290" width="10" height="10" fill="#fdae61"/><rect x="540" y="290" width="10" height="10" fill="#f46d43"/><rect x="550" y="290" width="10" height="10" fill="#fdae61"/><rect x="560" y="290" width="10" height="10" fill="#ffffff"/><rect x="570" y="290" width="10" height="10" fill="#d73027"/><rect x="580" y="290" width="10" height="10" fill="#a50026"/><rect x="590" y="290" width="20" height="10" fill="#d73027"/><rect x="610" y="290" width="20" height="10" fill="#f46d43"/><rect x="630" y="290" width="10" height="10" fill="#fee090"/><rect x="640" y="290" width="10" height="10" fill="#fdae61"/><rect x="650" y="290" width="10" height="10" fill="#ffffff"/><rect x="660" y="290" width="10" height="10" fill="#abd9e9"/><rect x="670" y="290" width="10" height="10" fill="#4575b4"/><rect x="680" y="290" width="30" height="10" fill="#313695"/><rect x="710" y="290" width="10" height="10" fill="#74add1"/><rect x="720" y="290" width="10" height="10" fill="#e0f3f8"/><rect x="730" y="290" width="20" height="10" fill="#ffffff"/><rect x="750" y="290" width="10" height="10" fill="#e0f3f8"/><rect x="760" y="290" width="10" height="10" fill="#ffffff"/><rect x="770" y="290" width="30" height="10" fill="#fdae61"/><rect x="100" y="300" width="90" height="10" fill="#c8c8c8"/><rect x="190" y="300" width="80" height="10" fill="#f46d43"/><rect x="270" y="300" width="20" height="10" fill="#fdae61"/><rect x="290" y="300" width="10" height="10" fill="#f46d43"/><rect x="300" y="300" width="10" height="10" fill="#fdae61"/><rect x="310" y="300" width="10" height="10" fill="#e0f3f8"/><rect x="320" y="300" width="10" height="10" fill="#74add1"/><rect x="330" y="300" width="10" height="10" fill="#4575b4"/><rect x="340" y="300" width="10" height="10" fill="#abd9e9"/><rect x="350" y="300" width="40" height="10" fill="#d73027"/><rect x="390" y="300" width="10" height="10" fill="#fdae61"/><rect x="400" y="300" width="10" height="10" fill="#ffffff"/><rect x="410" y="300" width="10" height="10" fill="#f46d43"/><rect x="420" y="300" width="30" height="10" fill="#d73027"/><rect x="450" y="300" width="20" height="10" fill="#a50026"/><rect x="470" y="300" width="30" height="10" fill="#d73027"/><rect x="500" y="300" width="10" height="10" fill="#f46d43"/><rect x="510" y="300" width="30" height="10" fill="#a50026"/><rect x="540" y="300" width="10" height="10" fill="#f46d43"/><rect x="550" y="300" width="10" height="10" fill="#fdae61"/><rect x="560" y="300" width="10" height="10" fill="#ffffff"/><rect x="570" y="300" width="10" height="10" fill="#d73027"/><rect x="580" y="300" width="20" height="10" fill="#a50026"/><rect x="600" y="300" width="30" height="10" fill="#d73027"/><rect x="630" y="300" width="10" height="10" fill="#f46d43"/><rect x="640" y="300" width="10" height="10" fill="#fdae61"/><rect x="650" y="300" width="10" height="10" fill="#d73027"/><rect x="660" y="300" width="10" height="10" fill="#74add1"/><rect x="670" y="300" width="10" height="10" fill="#4575b4"/><rect x="680" y="300" width="20" height="10" fill="#313695"/><rect x="700" y="300" width="10" height="10" fill="#4575b4"/><rect x="710" y="300" width="10" height="10" fill="#abd9e9"/><rect x="720" y="300" width="10" height="10" fill="#ffffff"/><rect x="730" y="300" width="10" height="10" fill="#fdae61"/><rect x="740" y="300" width="10" height="10" fill="#fee090"/><rect x="750" y="300" width="10" height="10" fill="#ffffff"/><rect x="760" y="300" width="10" height="10" fill="#fee090"/><rect x="770" y="300" width="30" height="10" fill="#f46d43"/><rect x="100" y="310" width="100" height="10" fill="#c8c8c8"/><rect x="200" y="310" width="70" height="10" fill="#f46d43"/><rect x="270" y="310" width="20" height="10" fill="#ffffff"/><rect x="290" y="310" width="10" height="10" fill="#d73027"/><rect x="300" y="310" width="10" height="10" fill="#fdae61"/><rect x="310" y="310" width="10" height="10" fill="#74add1"/><rect x="320" y="310" width="10" height="10" fill="#4575b4"/><rect x="330" y="310" width="10" height="10" fill="#74add1"/><rect x="340" y="310" width="10" height="10" fill="#e0f3f8"/><rect x="350" y="310" width="30" height="10" fill="#f46d43"/><rect x="380" y="310" width="30" height="10" fill="#fdae61"/><rect x="410" y="310" width="10" height="10" fill="#ffffff"/><rect x="420" y="310" width="20" height="10" fill="#f46d43"/><rect x="440" y="310" width="10" height="10" fill="#d73027"/><rect x="450" y="310" width="10" height="10" fill="#a50026"/><rect x="460" y="310" width="10" height="10" fill="#d73027"/><rect x="470" y="310" width="10" height="10" fill="#a50026"/><rect x="480" y="310" width="30" height="10" fill="#d73027"/><rect x="510" y="310" width="30" height="10" fill="#a50026"/><rect x="540" y="310" width="10" height="10" fill="#f46d43"/><rect x="550" y="310" width="10" height="10" fill="#fdae61"/><rect x="560" y="310" width="10" height="10" fill="#e0f3f8"/><rect x="570" y="310" width="10" height="10" fill="#d73027"/><rect x="580" y="310" width="20" height="10" fill="#a50026"/><rect x="600" y="310" width="10" height="10" fill="#d73027"/><rect x="610" y="310" width="20" height="10" fill="#a50026"/><rect x="630" y="310" width="10" height="10" fill="#d73027"/><rect x="640" y="310" width="10" height="10" fill="#f46d43"/><rect x="650" y="310" width="10" height="10" fill="#fee090"/><rect x="660" y="310" width="10" height="10" fill="#e0f3f8"/><rect x="670" y="310" width="10" height="10" fill="#abd9e9"/><rect x="680" y="310" width="10" height="10" fill="#74add1"/><rect x="690" y="310" width="10" height="10" fill="#abd9e9"/><rect x="700" y="310" width="10" height="10" fill="#ffffff"/><rect x="710" y="310" width="10" height="10" fill="#74add1"/><rect x="720" y="310" width="10" height="10" fill="#ffffff"/><rect x="730" y="310" width="10" height="10" fill="#fdae61"/><rect x="740" y="310" width="20" height="10" fill="#fee090"/><rect x="760" y="310" width="10" height="10" fill="#ffffff"/><rect x="770" y="310" width="30" height="10" fill="#fdae61"/><rect x="100" y="320" width="100" height="10" fill="#c8c8c8"/><rect x="200" y="320" width="80" height="10" fill="#f46d43"/><rect x="280" y="320" width="10" height="10" fill="#fee090"/><rect x="290" y="320" width="10" height="10" fill="#f46d43"/><rect x="300" y="320" width="10" height="10" fill="#fdae61"/><rect x="310" y="320" width="10" height="10" fill="#ffffff"/><rect x="320" y="320" width="10" height="10" fill="#e0f3f8"/><rect x="330" y="320" width="30" height="10" fill="#fdae61"/><rect x="360" y="320" width="10" height="10" fill="#ffffff"/><rect x="370" y="320" width="10" height="10" fill="#fee090"/><rect x="380" y="320" width="10" height="10" fill="#fdae61"/><rect x="390" y="320" width="10" height="10" fill="#f46d43"/><rect x="400" y="320" width="20" height="10" fill="#fdae61"/><rect x="420" y="320" width="10" height="10" fill="#ffffff"/><rect x="430" y="320" width="10" height="10" fill="#f46d43"/><rect x="440" y="320" width="10" height="10" fill="#d73027"/><rect x="450" y="320" width="10" height="10" fill="#a50026"/><rect x="460" y="320" width="30" height="10" fill="#d73027"/><rect x="490" y="320" width="20" height="10" fill="#f46d43"/><rect x="510" y="320" width="30" height="10" fill="#a50026"/><rect x="540" y="320" width="10" height="10" fill="#f46d43"/><rect x="550" y="320" width="10" height="10" fill="#e0f3f8"/><rect x="560" y="320" width="10" height="10" fill="#abd9e9"/><rect x="570" y="320" width="10" height="10" fill="#f46d43"/><rect x="580" y="320" width="20" height="10" fill="#d73027"/><rect x="600" y="320" width="10" height="10" fill="#f46d43"/><rect x="610" y="320" width="10" height="10" fill="#d73027"/><rect x="620" y="320" width="30" height="10" fill="#a50026"/><rect x="650" y="320" width="10" height="10" fill="#fdae61"/><rect x="660" y="320" width="10" height="10" fill="#ffffff"/><rect x="670" y="320" width="10" height="10" fill="#74add1"/><rect x="680" y="320" width="10" height="10" fill="#e0f3f8"/><rect x="690" y="320" width="10" height="10" fill="#ffffff"/><rect x="700" y="320" width="10" height="10" fill="#fdae61"/><rect x="710" y="320" width="10" height="10" fill="#74add1"/><rect x="720" y="320" width="10" height="10" fill="#fdae61"/><rect x="730" y="320" width="10" height="10" fill="#fee090"/><rect x="740" y="320" width="20" height="10" fill="#ffffff"/><rect x="760" y="320" width="40" height="10" fill="#fdae61"/><rect x="100" y="330" width="100" height="10" fill="#c8c8c8"/><rect x="200" y="330" width="50" height="10" fill="#d73027"/><rect x="250" y="330" width="30" height="10" fill="#f46d43"/><rect x="280" y="330" width="20" height="10" fill="#fdae61"/><rect x="300" y="330" width="10" height="10" fill="#ffffff"/><rect x="310" y="330" width="30" height="10" fill="#fdae61"/><rect x="340" y="330" width="10" height="10" fill="#f46d43"/><rect x="350" y="330" width="10" height="10" fill="#fdae61"/><rect x="360" y="330" width="10" height="10" fill="#fee090"/><rect x="370" y="330" width="10" height="10" fill="#f46d43"/><rect x="380" y="330" width="10" height="10" fill="#fdae61"/><rect x="390" y="330" width="10" height="10" fill="#f46d43"/><rect x="400" y="330" width="10" height="10" fill="#d73027"/><rect x="410" y="330" width="10" height="10" fill="#f46d43"/><rect x="420" y="330" width="10" height="10" fill="#fdae61"/><rect x="430" y="330" width="10" height="10" fill="#f46d43"/><rect x="440" y="330" width="20" height="10" fill="#a50026"/><rect x="460" y="330" width="10" height="10" fill="#d73027"/><rect x="470" y="330" width="10" height="10" fill="#f46d43"/><rect x="480" y="330" width="10" height="10" fill="#ffffff"/><rect x="490" y="330" width="20" height="10" fill="#e0f3f8"/><rect x="510" y="330" width="20" height="10" fill="#fdae61"/><rect x="530" y="330" width="10" height="10" fill="#f46d43"/><rect x="540" y="330" width="30" height="10" fill="#d73027"/><rect x="570" y="330" width="20" height="10" fill="#f46d43"/><rect x="590" y="330" width="10" height="10" fill="#d73027"/><rect x="600" y="330" width="10" height="10" fill="#fdae61"/><rect x="610" y="330" width="10" height="10" fill="#fee090"/><rect x="620" y="330" width="10" height="10" fill="#ffffff"/><rect x="630" y="330" width="10" height="10" fill="#d73027"/><rect x="640" y="330" width="10" height="10" fill="#a50026"/><rect x="650" y="330" width="10" height="10" fill="#d73027"/><rect x="660" y="330" width="10" height="10" fill="#fdae61"/><rect x="670" y="330" width="10" height="10" fill="#4575b4"/><rect x="680" y="330" width="10" height="10" fill="#fdae61"/><rect x="690" y="330" width="10" height="10" fill="#fee090"/><rect x="700" y="330" width="10" height="10" fill="#ffffff"/><rect x="710" y="330" width="10" height="10" fill="#e0f3f8"/><rect x="720" y="330" width="10" height="10" fill="#fdae61"/><rect x="730" y="330" width="10" height="10" fill="#f46d43"/><rect x="740" y="330" width="20" height="10" fill="#fdae61"/><rect x="760" y="330" width="40" height="10" fill="#f46d43"/><rect x="100" y="340" width="100" height="10" fill="#c8c8c8"/><rect x="200" y="340" width="60" height="10" fill="#d73027"/><rect x="260" y="340" width="20" height="10" fill="#fdae61"/><rect x="280" y="340" width="10" height="10" fill="#e0f3f8"/><rect x="290" y="340" width="10" height="10" fill="#74add1"/><rect x="300" y="340" width="10" height="10" fill="#e0f3f8"/><rect x="310" y="340" width="10" height="10" fill="#ffffff"/><rect x="320" y="340" width="10" height="10" fill="#fee090"/><rect x="330" y="340" width="20" height="10" fill="#ffffff"/><rect x="350" y="340" width="40" height="10" fill="#fdae61"/><rect x="390" y="340" width="40" height="10" fill="#f46d43"/><rect x="430" y="340" width="10" height="10" fill="#d73027"/><rect x="440" y="340" width="30" height="10" fill="#a50026"/><rect x="470" y="340" width="40" height="10" fill="#f46d43"/><rect x="510" y="340" width="20" height="10" fill="#fdae61"/><rect x="530" y="340" width="10" height="10" fill="#f46d43"/><rect x="540" y="340" width="20" height="10" fill="#a50026"/><rect x="560" y="340" width="40" height="10" fill="#d73027"/><rect x="600" y="340" width="20" height="10" fill="#fdae61"/><rect x="620" y="340" width="10" height="10" fill="#f46d43"/><rect x="630" y="340" width="10" height="10" fill="#fdae61"/><rect x="640" y="340" width="30" height="10" fill="#d73027"/><rect x="670" y="340" width="10" height="10" fill="#f46d43"/><rect x="680" y="340" width="10" height="10" fill="#ffffff"/><rect x="690" y="340" width="10" height="10" fill="#d73027"/><rect x="700" y="340" width="10" height="10" fill="#fdae61"/><rect x="710" y="340" width="10" height="10" fill="#e0f3f8"/><rect x="720" y="340" width="10" height="10" fill="#fdae61"/><rect x="730" y="340" width="20" height="10" fill="#f46d43"/><rect x="750" y="340" width="50" height="10" fill="#fdae61"/><rect x="100" y="350" width="120" height="10" fill="#c8c8c8"/><rect x="220" y="350" width="10" height="10" fill="#a50026"/><rect x="230" y="350" width="20" height="10" fill="#d73027"/><rect x="250" y="350" width="10" height="10" fill="#f46d43"/><rect x="260" y="350" width="10" height="10" fill="#ffffff"/><rect x="270" y="350" width="10" height="10" fill="#abd9e9"/><rect x="280" y="350" width="10" height="10" fill="#fee090"/><rect x="290" y="350" width="10" height="10" fill="#313695"/><rect x="300" y="350" width="10" height="10" fill="#abd9e9"/><rect x="310" y="350" width="30" height="10" fill="#ffffff"/><rect x="340" y="350" width="10" height="10" fill="#e0f3f8"/><rect x="350" y="350" width="10" height="10" fill="#fdae61"/><rect x="360" y="350" width="10" height="10" fill="#f46d43"/><rect x="370" y="350" width="20" height="10" fill="#fdae61"/><rect x="390" y="350" width="10" height="10" fill="#d73027"/><rect x="400" y="350" width="10" height="10" fill="#f46d43"/><rect x="410" y="350" width="10" height="10" fill="#fdae61"/><rect x="420" y="350" width="10" height="10" fill="#f46d43"/><rect x="430" y="350" width="30" height="10" fill="#a50026"/><rect x="460" y="350" width="20" height="10" fill="#d73027"/><rect x="480" y="350" width="40" height="10" fill="#f46d43"/><rect x="520" y="350" width="10" height="10" fill="#fdae61"/><rect x="530" y="350" width="10" height="10" fill="#f46d43"/><rect x="540" y="350" width="30" height="10" fill="#a50026"/><rect x="570" y="350" width="30" height="10" fill="#d73027"/><rect x="600" y="350" width="30" height="10" fill="#fdae61"/><rect x="630" y="350" width="10" height="10" fill="#e0f3f8"/><rect x="640" y="350" width="20" height="10" fill="#f46d43"/><rect x="660" y="350" width="20" height="10" fill="#313695"/><rect x="680" y="350" width="10" height="10" fill="#ffffff"/><rect x="690" y="350" width="20" height="10" fill="#d73027"/><rect x="710" y="350" width="10" height="10" fill="#ffffff"/><rect x="720" y="350" width="10" height="10" fill="#f46d43"/><rect x="730" y="350" width="70" height="10" fill="#d73027"/><rect x="100" y="360" width="110" height="10" fill="#c8c8c8"/><rect x="210" y="360" width="10" height="10" fill="#fdae61"/><rect x="220" y="360" width="10" height="10" fill="#e0f3f8"/><rect x="230" y="360" width="10" height="10" fill="#fdae61"/><rect x="240" y="360" width="10" height="10" fill="#f46d43"/><rect x="250" y="360" width="10" height="10" fill="#fdae61"/><rect x="260" y="360" width="20" height="10" fill="#74add1"/><rect x="280" y="360" width="20" height="10" fill="#e0f3f8"/><rect x="300" y="360" width="30" height="10" fill="#abd9e9"/><rect x="330" y="360" width="10" height="10" fill="#e0f3f8"/><rect x="340" y="360" width="20" height="10" fill="#ffffff"/><rect x="360" y="360" width="10" height="10" fill="#f46d43"/><rect x="370" y="360" width="10" height="10" fill="#d73027"/><rect x="380" y="360" width="30" height="10" fill="#f46d43"/><rect x="410" y="360" width="10" height="10" fill="#fdae61"/><rect x="420" y="360" width="20" height="10" fill="#f46d43"/><rect x="440" y="360" width="30" height="10" fill="#d73027"/><rect x="470" y="360" width="20" height="10" fill="#f46d43"/><rect x="490" y="360" width="10" height="10" fill="#fdae61"/><rect x="500" y="360" width="10" height="10" fill="#f46d43"/><rect x="510" y="360" width="40" height="10" fill="#fdae61"/><rect x="550" y="360" width="10" height="10" fill="#f46d43"/><rect x="560" y="360" width="10" height="10" fill="#d73027"/><rect x="570" y="360" width="30" height="10" fill="#a50026"/><rect x="600" y="360" width="50" height="10" fill="#ffffff"/><rect x="650" y="360" width="10" height="10" fill="#e0f3f8"/><rect x="660" y="360" width="10" height="10" fill="#313695"/><rect x="670" y="360" width="10" height="10" fill="#4575b4"/><rect x="680" y="360" width="10" height="10" fill="#74add1"/><rect x="690" y="360" width="10" height="10" fill="#f46d43"/><rect x="700" y="360" width="20" height="10" fill="#d73027"/><rect x="720" y="360" width="20" height="10" fill="#f46d43"/><rect x="740" y="360" width="60" height="10" fill="#d73027"/><rect x="100" y="370" width="80" height="10" fill="#c8c8c8"/><rect x="180" y="370" width="20" height="10" fill="#a50026"/><rect x="200" y="370" width="10" height="10" fill="#f46d43"/><rect x="210" y="370" width="10" height="10" fill="#abd9e9"/><rect x="220" y="370" width="10" height="10" fill="#313695"/><rect x="230" y="370" width="10" height="10" fill="#4575b4"/><rect x="240" y="370" width="10" height="10" fill="#fdae61"/><rect x="250" y="370" width="10" height="10" fill="#f46d43"/><rect x="260" y="370" width="20" height="10" fill="#313695"/><rect x="280" y="370" width="20" height="10" fill="#abd9e9"/><rect x="300" y="370" width="10" height="10" fill="#74add1"/><rect x="310" y="370" width="10" height="10" fill="#313695"/><rect x="320" y="370" width="10" height="10" fill="#4575b4"/><rect x="330" y="370" width="10" height="10" fill="#313695"/><rect x="340" y="370" width="20" height="10" fill="#abd9e9"/><rect x="360" y="370" width="10" height="10" fill="#ffffff"/><rect x="370" y="370" width="10" height="10" fill="#fdae61"/><rect x="380" y="370" width="30" height="10" fill="#f46d43"/><rect x="410" y="370" width="40" height="10" fill="#d73027"/><rect x="450" y="370" width="10" height="10" fill="#a50026"/><rect x="460" y="370" width="20" height="10" fill="#d73027"/><rect x="480" y="370" width="10" height="10" fill="#f46d43"/><rect x="490" y="370" width="10" height="10" fill="#fdae61"/><rect x="500" y="370" width="10" height="10" fill="#ffffff"/><rect x="510" y="370" width="10" height="10" fill="#abd9e9"/><rect x="520" y="370" width="10" height="10" fill="#ffffff"/><rect x="530" y="370" width="10" height="10" fill="#fee090"/><rect x="540" y="370" width="10" height="10" fill="#fdae61"/><rect x="550" y="370" width="100" height="10" fill="#f46d43"/><rect x="650" y="370" width="10" height="10" fill="#fdae61"/><rect x="660" y="370" width="20" height="10" fill="#ffffff"/><rect x="680" y="370" width="10" height="10" fill="#fdae61"/><rect x="690" y="370" width="10" height="10" fill="#d73027"/><rect x="700" y="370" width="10" height="10" fill="#f46d43"/><rect x="710" y="370" width="90" height="10" fill="#d73027"/><rect x="100" y="380" width="60" height="10" fill="#c8c8c8"/><rect x="160" y="380" width="10" height="10" fill="#ffffff"/><rect x="170" y="380" width="30" height="10" fill="#a50026"/><rect x="200" y="380" width="10" height="10" fill="#d73027"/><rect x="210" y="380" width="10" height="10" fill="#abd9e9"/><rect x="220" y="380" width="10" height="10" fill="#313695"/><rect x="230" y="380" width="10" height="10" fill="#4575b4"/><rect x="240" y="380" width="20" height="10" fill="#fdae61"/><rect x="260" y="380" width="10" height="10" fill="#313695"/><rect x="270" y="380" width="10" height="10" fill="#e0f3f8"/><rect x="280" y="380" width="10" height="10" fill="#fee090"/><rect x="290" y="380" width="10" height="10" fill="#f46d43"/><rect x="300" y="380" width="40" height="10" fill="#313695"/><rect x="340" y="380" width="10" height="10" fill="#74add1"/><rect x="350" y="380" width="10" height="10" fill="#e0f3f8"/><rect x="360" y="380" width="10" height="10" fill="#ffffff"/><rect x="370" y="380" width="10" height="10" fill="#fdae61"/><rect x="380" y="380" width="20" height="10" fill="#f46d43"/><rect x="400" y="380" width="20" height="10" fill="#d73027"/><rect x="420" y="380" width="50" height="10" fill="#a50026"/><rect x="470" y="380" width="20" height="10" fill="#d73027"/><rect x="490" y="380" width="10" height="10" fill="#f46d43"/><rect x="500" y="380" width="10" height="10" fill="#fdae61"/><rect x="510" y="380" width="10" height="10" fill="#abd9e9"/><rect x="520" y="380" width="10" height="10" fill="#e0f3f8"/><rect x="530" y="380" width="10" height="10" fill="#ffffff"/><rect x="540" y="380" width="60" height="10" fill="#fdae61"/><rect x="600" y="380" width="40" height="10" fill="#d73027"/><rect x="640" y="380" width="10" height="10" fill="#f46d43"/><rect x="650" y="380" width="10" height="10" fill="#fee090"/><rect x="660" y="380" width="10" height="10" fill="#ffffff"/><rect x="670" y="380" width="10" height="10" fill="#fdae61"/><rect x="680" y="380" width="10" height="10" fill="#f46d43"/><rect x="690" y="380" width="110" height="10" fill="#d73027"/><rect x="100" y="390" width="60" height="10" fill="#c8c8c8"/><rect x="160" y="390" width="10" height="10" fill="#a50026"/><rect x="170" y="390" width="10" height="10" fill="#c8c8c8"/><rect x="180" y="390" width="10" height="10" fill="#a50026"/><rect x="190" y="390" width="10" height="10" fill="#c8c8c8"/><rect x="200" y="390" width="10" height="10" fill="#d73027"/><rect x="210" y="390" width="10" height="10" fill="#ffffff"/><rect x="220" y="390" width="10" height="10" fill="#4575b4"/><rect x="230" y="390" width="10" height="10" fill="#e0f3f8"/><rect x="240" y="390" width="40" height="10" fill="#c8c8c8"/><rect x="280" y="390" width="10" height="10" fill="#fdae61"/><rect x="290" y="390" width="10" height="10" fill="#f46d43"/><rect x="300" y="390" width="10" height="10" fill="#74add1"/><rect x="310" y="390" width="10" height="10" fill="#4575b4"/><rect x="320" y="390" width="10" height="10" fill="#313695"/><rect x="330" y="390" width="10" height="10" fill="#4575b4"/><rect x="340" y="390" width="10" height="10" fill="#abd9e9"/><rect x="350" y="390" width="10" height="10" fill="#ffffff"/><rect x="360" y="390" width="10" height="10" fill="#e0f3f8"/><rect x="370" y="390" width="10" height="10" fill="#fdae61"/><rect x="380" y="390" width="30" height="10" fill="#f46d43"/><rect x="410" y="390" width="10" height="10" fill="#d73027"/><rect x="420" y="390" width="40" height="10" fill="#a50026"/><rect x="460" y="390" width="30" height="10" fill="#d73027"/><rect x="490" y="390" width="20" height="10" fill="#f46d43"/><rect x="510" y="390" width="10" height="10" fill="#ffffff"/><rect x="520" y="390" width="20" height="10" fill="#e0f3f8"/><rect x="540" y="390" width="10" height="10" fill="#ffffff"/><rect x="550" y="390" width="50" height="10" fill="#fdae61"/><rect x="600" y="390" width="40" height="10" fill="#d73027"/><rect x="640" y="390" width="20" height="10" fill="#fdae61"/><rect x="660" y="390" width="10" height="10" fill="#ffffff"/><rect x="670" y="390" width="130" height="10" fill="#f46d43"/><rect x="100" y="400" width="70" height="10" fill="#c8c8c8"/><rect x="170" y="400" width="20" height="10" fill="#a50026"/><rect x="190" y="400" width="10" height="10" fill="#c8c8c8"/><rect x="200" y="400" width="10" height="10" fill="#a50026"/><rect x="210" y="400" width="10" height="10" fill="#ffffff"/><rect x="220" y="400" width="10" height="10" fill="#f46d43"/><rect x="230" y="400" width="20" height="10" fill="#c8c8c8"/><rect x="250" y="400" width="10" height="10" fill="#313695"/><rect x="260" y="400" width="10" height="10" fill="#4575b4"/><rect x="270" y="400" width="20" height="10" fill="#c8c8c8"/><rect x="290" y="400" width="10" height="10" fill="#313695"/><rect x="300" y="400" width="10" height="10" fill="#abd9e9"/><rect x="310" y="400" width="10" height="10" fill="#ffffff"/><rect x="320" y="400" width="10" height="10" fill="#abd9e9"/><rect x="330" y="400" width="10" height="10" fill="#74add1"/><rect x="340" y="400" width="20" height="10" fill="#4575b4"/><rect x="360" y="400" width="10" height="10" fill="#e0f3f8"/><rect x="370" y="400" width="20" height="10" fill="#fdae61"/><rect x="390" y="400" width="10" height="10" fill="#f46d43"/><rect x="400" y="400" width="10" height="10" fill="#fdae61"/><rect x="410" y="400" width="10" height="10" fill="#d73027"/><rect x="420" y="400" width="50" height="10" fill="#a50026"/><rect x="470" y="400" width="10" height="10" fill="#f46d43"/><rect x="480" y="400" width="10" height="10" fill="#fdae61"/><rect x="490" y="400" width="10" height="10" fill="#d73027"/><rect x="500" y="400" width="10" height="10" fill="#f46d43"/><rect x="510" y="400" width="10" height="10" fill="#ffffff"/><rect x="520" y="400" width="10" height="10" fill="#e0f3f8"/><rect x="530" y="400" width="10" height="10" fill="#ffffff"/><rect x="540" y="400" width="10" height="10" fill="#e0f3f8"/><rect x="550" y="400" width="50" height="10" fill="#ffffff"/><rect x="600" y="400" width="30" height="10" fill="#d73027"/><rect x="630" y="400" width="30" height="10" fill="#a50026"/><rect x="660" y="400" width="20" height="10" fill="#d73027"/><rect x="680" y="400" width="10" height="10" fill="#f46d43"/><rect x="690" y="400" width="10" height="10" fill="#d73027"/><rect x="700" y="400" width="100" height="10" fill="#f46d43"/><rect x="100" y="410" width="100" height="10" fill="#c8c8c8"/><rect x="200" y="410" width="10" height="10" fill="#a50026"/><rect x="210" y="410" width="20" height="10" fill="#d73027"/><rect x="230" y="410" width="10" height="10" fill="#fdae61"/><rect x="240" y="410" width="10" height="10" fill="#e0f3f8"/><rect x="250" y="410" width="20" height="10" fill="#313695"/><rect x="270" y="410" width="20" height="10" fill="#c8c8c8"/><rect x="290" y="410" width="10" height="10" fill="#4575b4"/><rect x="300" y="410" width="10" height="10" fill="#e0f3f8"/><rect x="310" y="410" width="20" height="10" fill="#abd9e9"/><rect x="330" y="410" width="10" height="10" fill="#e0f3f8"/><rect x="340" y="410" width="10" height="10" fill="#ffffff"/><rect x="350" y="410" width="10" height="10" fill="#74add1"/><rect x="360" y="410" width="10" height="10" fill="#e0f3f8"/><rect x="370" y="410" width="10" height="10" fill="#ffffff"/><rect x="380" y="410" width="10" height="10" fill="#fdae61"/><rect x="390" y="410" width="10" height="10" fill="#f46d43"/><rect x="400" y="410" width="10" height="10" fill="#fdae61"/><rect x="410" y="410" width="10" height="10" fill="#f46d43"/><rect x="420" y="410" width="10" height="10" fill="#d73027"/><rect x="430" y="410" width="30" height="10" fill="#a50026"/><rect x="460" y="410" width="10" height="10" fill="#d73027"/><rect x="470" y="410" width="10" height="10" fill="#a50026"/><rect x="480" y="410" width="10" height="10" fill="#f46d43"/><rect x="490" y="410" width="40" height="10" fill="#fdae61"/><rect x="530" y="410" width="10" height="10" fill="#f46d43"/><rect x="540" y="410" width="10" height="10" fill="#74add1"/><rect x="550" y="410" width="50" height="10" fill="#abd9e9"/><rect x="600" y="410" width="10" height="10" fill="#f46d43"/><rect x="610" y="410" width="10" height="10" fill="#d73027"/><rect x="620" y="410" width="10" height="10" fill="#a50026"/><rect x="630" y="410" width="10" height="10" fill="#d73027"/><rect x="640" y="410" width="20" height="10" fill="#f46d43"/><rect x="660" y="410" width="10" height="10" fill="#a50026"/><rect x="670" y="410" width="10" height="10" fill="#d73027"/><rect x="680" y="410" width="20" height="10" fill="#a50026"/><rect x="700" y="410" width="100" height="10" fill="#f46d43"/><rect x="100" y="420" width="70" height="10" fill="#c8c8c8"/><rect x="170" y="420" width="20" height="10" fill="#a50026"/><rect x="190" y="420" width="10" height="10" fill="#c8c8c8"/><rect x="200" y="420" width="10" height="10" fill="#a50026"/><rect x="210" y="420" width="10" height="10" fill="#d73027"/><rect x="220" y="420" width="10" height="10" fill="#f46d43"/><rect x="230" y="420" width="10" height="10" fill="#fdae61"/><rect x="240" y="420" width="10" height="10" fill="#ffffff"/><rect x="250" y="420" width="20" height="10" fill="#74add1"/><rect x="270" y="420" width="20" height="10" fill="#c8c8c8"/><rect x="290" y="420" width="10" height="10" fill="#4575b4"/><rect x="300" y="420" width="10" height="10" fill="#313695"/><rect x="310" y="420" width="10" height="10" fill="#4575b4"/><rect x="320" y="420" width="10" height="10" fill="#313695"/><rect x="330" y="420" width="10" height="10" fill="#4575b4"/><rect x="340" y="420" width="10" height="10" fill="#e0f3f8"/><rect x="350" y="420" width="20" height="10" fill="#74add1"/><rect x="370" y="420" width="10" height="10" fill="#ffffff"/><rect x="380" y="420" width="10" height="10" fill="#fdae61"/><rect x="390" y="420" width="20" height="10" fill="#f46d43"/><rect x="410" y="420" width="10" height="10" fill="#d73027"/><rect x="420" y="420" width="30" height="10" fill="#a50026"/><rect x="450" y="420" width="20" height="10" fill="#d73027"/><rect x="470" y="420" width="20" height="10" fill="#a50026"/><rect x="490" y="420" width="10" height="10" fill="#f46d43"/><rect x="500" y="420" width="20" height="10" fill="#fdae61"/><rect x="520" y="420" width="10" height="10" fill="#ffffff"/><rect x="530" y="420" width="10" height="10" fill="#e0f3f8"/><rect x="540" y="420" width="10" height="10" fill="#ffffff"/><rect x="550" y="420" width="20" height="10" fill="#abd9e9"/><rect x="570" y="420" width="10" height="10" fill="#fee090"/><rect x="580" y="420" width="10" height="10" fill="#ffffff"/><rect x="590" y="420" width="20" height="10" fill="#fdae61"/><rect x="610" y="420" width="20" height="10" fill="#f46d43"/><rect x="630" y="420" width="10" height="10" fill="#d73027"/><rect x="640" y="420" width="30" height="10" fill="#f46d43"/><rect x="670" y="420" width="10" height="10" fill="#d73027"/><rect x="680" y="420" width="20" height="10" fill="#a50026"/><rect x="700" y="420" width="100" height="10" fill="#f46d43"/><rect x="100" y="430" width="100" height="10" fill="#c8c8c8"/><rect x="200" y="430" width="20" height="10" fill="#a50026"/><rect x="220" y="430" width="20" height="10" fill="#ffffff"/><rect x="240" y="430" width="10" height="10" fill="#e0f3f8"/><rect x="250" y="430" width="10" height="10" fill="#4575b4"/><rect x="260" y="430" width="30" height="10" fill="#ffffff"/><rect x="290" y="430" width="10" height="10" fill="#abd9e9"/><rect x="300" y="430" width="10" height="10" fill="#74add1"/><rect x="310" y="430" width="20" height="10" fill="#abd9e9"/><rect x="330" y="430" width="20" height="10" fill="#ffffff"/><rect x="350" y="430" width="20" height="10" fill="#74add1"/><rect x="370" y="430" width="10" height="10" fill="#abd9e9"/><rect x="380" y="430" width="20" height="10" fill="#fdae61"/><rect x="400" y="430" width="20" height="10" fill="#f46d43"/><rect x="420" y="430" width="50" height="10" fill="#a50026"/><rect x="470" y="430" width="10" height="10" fill="#d73027"/><rect x="480" y="430" width="10" height="10" fill="#a50026"/><rect x="490" y="430" width="20" height="10" fill="#d73027"/><rect x="510" y="430" width="10" height="10" fill="#fdae61"/><rect x="520" y="430" width="10" height="10" fill="#fee090"/><rect x="530" y="430" width="10" height="10" fill="#ffffff"/><rect x="540" y="430" width="10" height="10" fill="#fdae61"/><rect x="550" y="430" width="10" height="10" fill="#e0f3f8"/><rect x="560" y="430" width="10" height="10" fill="#74add1"/><rect x="570" y="430" width="10" height="10" fill="#abd9e9"/><rect x="580" y="430" width="10" height="10" fill="#ffffff"/><rect x="590" y="430" width="10" height="10" fill="#fdae61"/><rect x="600" y="430" width="10" height="10" fill="#f46d43"/><rect x="610" y="430" width="10" height="10" fill="#fdae61"/><rect x="620" y="430" width="10" height="10" fill="#ffffff"/><rect x="630" y="430" width="50" height="10" fill="#f46d43"/><rect x="680" y="430" width="10" height="10" fill="#d73027"/><rect x="690" y="430" width="10" height="10" fill="#a50026"/><rect x="700" y="430" width="100" height="10" fill="#f46d43"/><rect x="100" y="440" width="110" height="10" fill="#c8c8c8"/><rect x="210" y="440" width="20" height="10" fill="#a50026"/><rect x="230" y="440" width="10" height="10" fill="#f46d43"/><rect x="240" y="440" width="10" height="10" fill="#ffffff"/><rect x="250" y="440" width="10" height="10" fill="#74add1"/><rect x="260" y="440" width="10" height="10" fill="#e0f3f8"/><rect x="270" y="440" width="10" height="10" fill="#fdae61"/><rect x="280" y="440" width="10" height="10" fill="#ffffff"/><rect x="290" y="440" width="30" height="10" fill="#fee090"/><rect x="320" y="440" width="30" height="10" fill="#fdae61"/><rect x="350" y="440" width="30" height="10" fill="#e0f3f8"/><rect x="380" y="440" width="40" height="10" fill="#fdae61"/><rect x="420" y="440" width="20" height="10" fill="#f46d43"/><rect x="440" y="440" width="10" height="10" fill="#d73027"/><rect x="450" y="440" width="10" height="10" fill="#a50026"/><rect x="460" y="440" width="10" height="10" fill="#d73027"/><rect x="470" y="440" width="10" height="10" fill="#f46d43"/><rect x="480" y="440" width="10" height="10" fill="#d73027"/><rect x="490" y="440" width="10" height="10" fill="#a50026"/><rect x="500" y="440" width="10" height="10" fill="#d73027"/><rect x="510" y="440" width="10" height="10" fill="#f46d43"/><rect x="520" y="440" width="10" height="10" fill="#fdae61"/><rect x="530" y="440" width="10" height="10" fill="#f46d43"/><rect x="540" y="440" width="10" height="10" fill="#fdae61"/><rect x="550" y="440" width="20" height="10" fill="#ffffff"/><rect x="570" y="440" width="20" height="10" fill="#abd9e9"/><rect x="590" y="440" width="10" height="10" fill="#fdae61"/><rect x="600" y="440" width="10" height="10" fill="#f46d43"/><rect x="610" y="440" width="10" height="10" fill="#fdae61"/><rect x="620" y="440" width="10" height="10" fill="#e0f3f8"/><rect x="630" y="440" width="10" height="10" fill="#74add1"/><rect x="640" y="440" width="10" height="10" fill="#e0f3f8"/><rect x="650" y="440" width="60" height="10" fill="#d73027"/><rect x="710" y="440" width="90" height="10" fill="#f46d43"/><rect x="100" y="450" width="100" height="10" fill="#c8c8c8"/><rect x="200" y="450" width="10" height="10" fill="#a50026"/><rect x="210" y="450" width="10" height="10" fill="#c8c8c8"/><rect x="220" y="450" width="10" height="10" fill="#a50026"/><rect x="230" y="450" width="10" height="10" fill="#d73027"/><rect x="240" y="450" width="10" height="10" fill="#f46d43"/><rect x="250" y="450" width="10" height="10" fill="#e0f3f8"/><rect x="260" y="450" width="10" height="10" fill="#ffffff"/><rect x="270" y="450" width="10" height="10" fill="#fee090"/><rect x="280" y="450" width="10" height="10" fill="#ffffff"/><rect x="290" y="450" width="10" height="10" fill="#fdae61"/><rect x="300" y="450" width="30" height="10" fill="#f46d43"/><rect x="330" y="450" width="10" height="10" fill="#fee090"/><rect x="340" y="450" width="60" height="10" fill="#ffffff"/><rect x="400" y="450" width="20" height="10" fill="#fdae61"/><rect x="420" y="450" width="20" height="10" fill="#ffffff"/><rect x="440" y="450" width="10" height="10" fill="#fdae61"/><rect x="450" y="450" width="10" height="10" fill="#d73027"/><rect x="460" y="450" width="20" height="10" fill="#f46d43"/><rect x="480" y="450" width="10" height="10" fill="#d73027"/><rect x="490" y="450" width="20" height="10" fill="#a50026"/><rect x="510" y="450" width="10" height="10" fill="#d73027"/><rect x="520" y="450" width="10" height="10" fill="#fdae61"/><rect x="530" y="450" width="10" height="10" fill="#fee090"/><rect x="540" y="450" width="20" height="10" fill="#fdae61"/><rect x="560" y="450" width="10" height="10" fill="#fee090"/><rect x="570" y="450" width="10" height="10" fill="#abd9e9"/><rect x="580" y="450" width="10" height="10" fill="#74add1"/><rect x="590" y="450" width="10" height="10" fill="#abd9e9"/><rect x="600" y="450" width="10" height="10" fill="#ffffff"/><rect x="610" y="450" width="10" height="10" fill="#e0f3f8"/><rect x="620" y="450" width="10" height="10" fill="#abd9e9"/><rect x="630" y="450" width="10" height="10" fill="#74add1"/><rect x="640" y="450" width="10" height="10" fill="#fdae61"/><rect x="650" y="450" width="70" height="10" fill="#d73027"/><rect x="720" y="450" width="80" height="10" fill="#f46d43"/><rect x="100" y="460" width="100" height="10" fill="#c8c8c8"/><rect x="200" y="460" width="10" height="10" fill="#f46d43"/><rect x="210" y="460" width="10" height="10" fill="#d73027"/><rect x="220" y="460" width="20" height="10" fill="#a50026"/><rect x="240" y="460" width="10" height="10" fill="#d73027"/><rect x="250" y="460" width="10" height="10" fill="#ffffff"/><rect x="260" y="460" width="10" height="10" fill="#f46d43"/><rect x="270" y="460" width="20" height="10" fill="#e0f3f8"/><rect x="290" y="460" width="10" height="10" fill="#ffffff"/><rect x="300" y="460" width="10" height="10" fill="#fee090"/><rect x="310" y="460" width="10" height="10" fill="#d73027"/><rect x="320" y="460" width="20" height="10" fill="#f46d43"/><rect x="340" y="460" width="10" height="10" fill="#fdae61"/><rect x="350" y="460" width="20" height="10" fill="#f46d43"/><rect x="370" y="460" width="10" height="10" fill="#ffffff"/><rect x="380" y="460" width="10" height="10" fill="#fdae61"/><rect x="390" y="460" width="10" height="10" fill="#ffffff"/><rect x="400" y="460" width="20" height="10" fill="#fdae61"/><rect x="420" y="460" width="10" height="10" fill="#ffffff"/><rect x="430" y="460" width="20" height="10" fill="#e0f3f8"/><rect x="450" y="460" width="20" height="10" fill="#fdae61"/><rect x="470" y="460" width="10" height="10" fill="#ffffff"/><rect x="480" y="460" width="40" height="10" fill="#d73027"/><rect x="520" y="460" width="10" height="10" fill="#f46d43"/><rect x="530" y="460" width="10" height="10" fill="#fdae61"/><rect x="540" y="460" width="20" height="10" fill="#ffffff"/><rect x="560" y="460" width="10" height="10" fill="#e0f3f8"/><rect x="570" y="460" width="10" height="10" fill="#ffffff"/><rect x="580" y="460" width="10" height="10" fill="#abd9e9"/><rect x="590" y="460" width="10" height="10" fill="#74add1"/><rect x="600" y="460" width="10" height="10" fill="#e0f3f8"/><rect x="610" y="460" width="10" height="10" fill="#74add1"/><rect x="620" y="460" width="10" height="10" fill="#e0f3f8"/><rect x="630" y="460" width="30" height="10" fill="#abd9e9"/><rect x="660" y="460" width="70" height="10" fill="#d73027"/><rect x="730" y="460" width="70" height="10" fill="#f46d43"/><rect x="100" y="470" width="60" height="10" fill="#c8c8c8"/><rect x="160" y="470" width="50" height="10" fill="#a50026"/><rect x="210" y="470" width="10" height="10" fill="#c8c8c8"/><rect x="220" y="470" width="40" height="10" fill="#a50026"/><rect x="260" y="470" width="10" height="10" fill="#d73027"/><rect x="270" y="470" width="10" height="10" fill="#fdae61"/><rect x="280" y="470" width="10" height="10" fill="#f46d43"/><rect x="290" y="470" width="20" height="10" fill="#fdae61"/><rect x="310" y="470" width="10" height="10" fill="#d73027"/><rect x="320" y="470" width="10" height="10" fill="#74add1"/><rect x="330" y="470" width="10" height="10" fill="#fdae61"/><rect x="340" y="470" width="30" height="10" fill="#f46d43"/><rect x="370" y="470" width="20" height="10" fill="#fdae61"/><rect x="390" y="470" width="10" height="10" fill="#ffffff"/><rect x="400" y="470" width="10" height="10" fill="#fee090"/><rect x="410" y="470" width="20" height="10" fill="#e0f3f8"/><rect x="430" y="470" width="10" height="10" fill="#abd9e9"/><rect x="440" y="470" width="10" height="10" fill="#fdae61"/><rect x="450" y="470" width="10" height="10" fill="#ffffff"/><rect x="460" y="470" width="10" height="10" fill="#e0f3f8"/><rect x="470" y="470" width="10" height="10" fill="#4575b4"/><rect x="480" y="470" width="10" height="10" fill="#fdae61"/><rect x="490" y="470" width="10" height="10" fill="#f46d43"/><rect x="500" y="470" width="10" height="10" fill="#fdae61"/><rect x="510" y="470" width="30" height="10" fill="#4575b4"/><rect x="540" y="470" width="10" height="10" fill="#abd9e9"/><rect x="550" y="470" width="10" height="10" fill="#e0f3f8"/><rect x="560" y="470" width="20" height="10" fill="#ffffff"/><rect x="580" y="470" width="10" height="10" fill="#e0f3f8"/><rect x="590" y="470" width="10" height="10" fill="#74add1"/><rect x="600" y="470" width="10" height="10" fill="#4575b4"/><rect x="610" y="470" width="10" height="10" fill="#abd9e9"/><rect x="620" y="470" width="10" height="10" fill="#e0f3f8"/><rect x="630" y="470" width="40" height="10" fill="#abd9e9"/><rect x="670" y="470" width="70" height="10" fill="#d73027"/><rect x="740" y="470" width="60" height="10" fill="#f46d43"/><rect x="100" y="480" width="170" height="10" fill="#a50026"/><rect x="270" y="480" width="20" height="10" fill="#d73027"/><rect x="290" y="480" width="10" height="10" fill="#fdae61"/><rect x="300" y="480" width="10" height="10" fill="#f46d43"/><rect x="310" y="480" width="10" height="10" fill="#d73027"/><rect x="320" y="480" width="10" height="10" fill="#abd9e9"/><rect x="330" y="480" width="10" height="10" fill="#e0f3f8"/><rect x="340" y="480" width="10" height="10" fill="#ffffff"/><rect x="350" y="480" width="10" height="10" fill="#e0f3f8"/><rect x="360" y="480" width="10" height="10" fill="#ffffff"/><rect x="370" y="480" width="10" height="10" fill="#e0f3f8"/><rect x="380" y="480" width="20" height="10" fill="#f46d43"/><rect x="400" y="480" width="10" height="10" fill="#ffffff"/><rect x="410" y="480" width="20" height="10" fill="#abd9e9"/><rect x="430" y="480" width="10" height="10" fill="#ffffff"/><rect x="440" y="480" width="10" height="10" fill="#f46d43"/><rect x="450" y="480" width="10" height="10" fill="#fdae61"/><rect x="460" y="480" width="10" height="10" fill="#abd9e9"/><rect x="470" y="480" width="10" height="10" fill="#4575b4"/><rect x="480" y="480" width="20" height="10" fill="#f46d43"/><rect x="500" y="480" width="10" height="10" fill="#ffffff"/><rect x="510" y="480" width="30" height="10" fill="#313695"/><rect x="540" y="480" width="10" height="10" fill="#abd9e9"/><rect x="550" y="480" width="10" height="10" fill="#e0f3f8"/><rect x="560" y="480" width="10" height="10" fill="#abd9e9"/><rect x="570" y="480" width="10" height="10" fill="#4575b4"/><rect x="580" y="480" width="20" height="10" fill="#74add1"/><rect x="600" y="480" width="20" height="10" fill="#4575b4"/><rect x="620" y="480" width="60" height="10" fill="#74add1"/><rect x="680" y="480" width="70" height="10" fill="#d73027"/><rect x="750" y="480" width="50" height="10" fill="#f46d43"/><rect x="100" y="490" width="120" height="10" fill="#a50026"/><rect x="220" y="490" width="10" height="10" fill="#f46d43"/><rect x="230" y="490" width="40" height="10" fill="#d73027"/><rect x="270" y="490" width="10" height="10" fill="#a50026"/><rect x="280" y="490" width="10" height="10" fill="#d73027"/><rect x="290" y="490" width="10" height="10" fill="#f46d43"/><rect x="300" y="490" width="10" height="10" fill="#d73027"/><rect x="310" y="490" width="10" height="10" fill="#f46d43"/><rect x="320" y="490" width="10" height="10" fill="#74add1"/><rect x="330" y="490" width="10" height="10" fill="#e0f3f8"/><rect x="340" y="490" width="20" height="10" fill="#313695"/><rect x="360" y="490" width="10" height="10" fill="#74add1"/><rect x="370" y="490" width="10" height="10" fill="#abd9e9"/><rect x="380" y="490" width="10" height="10" fill="#ffffff"/><rect x="390" y="490" width="20" height="10" fill="#e0f3f8"/><rect x="410" y="490" width="10" height="10" fill="#abd9e9"/><rect x="420" y="490" width="20" height="10" fill="#74add1"/><rect x="440" y="490" width="10" height="10" fill="#ffffff"/><rect x="450" y="490" width="10" height="10" fill="#e0f3f8"/><rect x="460" y="490" width="20" height="10" fill="#abd9e9"/><rect x="480" y="490" width="10" height="10" fill="#ffffff"/><rect x="490" y="490" width="10" height="10" fill="#fee090"/><rect x="500" y="490" width="10" height="10" fill="#ffffff"/><rect x="510" y="490" width="10" height="10" fill="#4575b4"/><rect x="520" y="490" width="20" height="10" fill="#313695"/><rect x="540" y="490" width="10" height="10" fill="#74add1"/><rect x="550" y="490" width="10" height="10" fill="#abd9e9"/><rect x="560" y="490" width="10" height="10" fill="#e0f3f8"/><rect x="570" y="490" width="20" height="10" fill="#74add1"/><rect x="590" y="490" width="100" height="10" fill="#4575b4"/><rect x="690" y="490" width="60" height="10" fill="#d73027"/><rect x="750" y="490" width="50" height="10" fill="#f46d43"/><rect x="100" y="500" width="130" height="10" fill="#a50026"/><rect x="230" y="500" width="10" height="10" fill="#4575b4"/><rect x="240" y="500" width="30" height="10" fill="#d73027"/><rect x="270" y="500" width="20" height="10" fill="#a50026"/><rect x="290" y="500" width="10" height="10" fill="#d73027"/><rect x="300" y="500" width="10" height="10" fill="#f46d43"/><rect x="310" y="500" width="10" height="10" fill="#fdae61"/><rect x="320" y="500" width="10" height="10" fill="#e0f3f8"/><rect x="330" y="500" width="10" height="10" fill="#abd9e9"/><rect x="340" y="500" width="30" height="10" fill="#74add1"/><rect x="370" y="500" width="10" height="10" fill="#abd9e9"/><rect x="380" y="500" width="30" height="10" fill="#e0f3f8"/><rect x="410" y="500" width="20" height="10" fill="#abd9e9"/><rect x="430" y="500" width="10" height="10" fill="#74add1"/><rect x="440" y="500" width="10" height="10" fill="#e0f3f8"/><rect x="450" y="500" width="10" height="10" fill="#313695"/><rect x="460" y="500" width="10" height="10" fill="#4575b4"/><rect x="470" y="500" width="10" height="10" fill="#313695"/><rect x="480" y="500" width="10" height="10" fill="#4575b4"/><rect x="490" y="500" width="10" height="10" fill="#abd9e9"/><rect x="500" y="500" width="10" height="10" fill="#e0f3f8"/><rect x="510" y="500" width="10" height="10" fill="#ffffff"/><rect x="520" y="500" width="10" height="10" fill="#abd9e9"/><rect x="530" y="500" width="20" height="10" fill="#74add1"/><rect x="550" y="500" width="10" height="10" fill="#4575b4"/><rect x="560" y="500" width="10" height="10" fill="#313695"/><rect x="570" y="500" width="20" height="10" fill="#abd9e9"/><rect x="590" y="500" width="10" height="10" fill="#74add1"/><rect x="600" y="500" width="110" height="10" fill="#4575b4"/><rect x="710" y="500" width="50" height="10" fill="#d73027"/><rect x="760" y="500" width="40" height="10" fill="#f46d43"/><rect x="100" y="510" width="120" height="10" fill="#a50026"/><rect x="220" y="510" width="10" height="10" fill="#ffffff"/><rect x="230" y="510" width="10" height="10" fill="#74add1"/><rect x="240" y="510" width="10" height="10" fill="#4575b4"/><rect x="250" y="510" width="10" height="10" fill="#ffffff"/><rect x="260" y="510" width="10" height="10" fill="#4575b4"/><rect x="270" y="510" width="10" height="10" fill="#d73027"/><rect x="280" y="510" width="10" height="10" fill="#f46d43"/><rect x="290" y="510" width="10" height="10" fill="#a50026"/><rect x="300" y="510" width="10" height="10" fill="#d73027"/><rect x="310" y="510" width="10" height="10" fill="#fee090"/><rect x="320" y="510" width="10" height="10" fill="#ffffff"/><rect x="330" y="510" width="30" height="10" fill="#fdae61"/><rect x="360" y="510" width="20" height="10" fill="#f46d43"/><rect x="380" y="510" width="10" height="10" fill="#ffffff"/><rect x="390" y="510" width="10" height="10" fill="#abd9e9"/><rect x="400" y="510" width="10" height="10" fill="#e0f3f8"/><rect x="410" y="510" width="10" height="10" fill="#ffffff"/><rect x="420" y="510" width="10" height="10" fill="#74add1"/><rect x="430" y="510" width="10" height="10" fill="#4575b4"/><rect x="440" y="510" width="10" height="10" fill="#74add1"/><rect x="450" y="510" width="60" height="10" fill="#313695"/><rect x="510" y="510" width="10" height="10" fill="#abd9e9"/><rect x="520" y="510" width="40" height="10" fill="#4575b4"/><rect x="560" y="510" width="30" height="10" fill="#abd9e9"/><rect x="590" y="510" width="130" height="10" fill="#e0f3f8"/><rect x="720" y="510" width="40" height="10" fill="#d73027"/><rect x="760" y="510" width="40" height="10" fill="#f46d43"/><rect x="100" y="520" width="130" height="10" fill="#a50026"/><rect x="230" y="520" width="10" height="10" fill="#f46d43"/><rect x="240" y="520" width="40" height="10" fill="#313695"/><rect x="280" y="520" width="10" height="10" fill="#fdae61"/><rect x="290" y="520" width="10" height="10" fill="#d73027"/><rect x="300" y="520" width="10" height="10" fill="#f46d43"/><rect x="310" y="520" width="10" height="10" fill="#fdae61"/><rect x="320" y="520" width="10" height="10" fill="#ffffff"/><rect x="330" y="520" width="30" height="10" fill="#f46d43"/><rect x="360" y="520" width="20" height="10" fill="#fdae61"/><rect x="380" y="520" width="10" height="10" fill="#e0f3f8"/><rect x="390" y="520" width="20" height="10" fill="#313695"/><rect x="410" y="520" width="30" height="10" fill="#4575b4"/><rect x="440" y="520" width="70" height="10" fill="#313695"/><rect x="510" y="520" width="10" height="10" fill="#74add1"/><rect x="520" y="520" width="10" height="10" fill="#4575b4"/><rect x="530" y="520" width="20" height="10" fill="#313695"/><rect x="550" y="520" width="10" height="10" fill="#4575b4"/><rect x="560" y="520" width="10" height="10" fill="#74add1"/><rect x="570" y="520" width="170" height="10" fill="#e0f3f8"/><rect x="740" y="520" width="30" height="10" fill="#d73027"/><rect x="770" y="520" width="30" height="10" fill="#f46d43"/><rect x="100" y="530" width="90" height="10" fill="#a50026"/><rect x="190" y="530" width="10" height="10" fill="#f46d43"/><rect x="200" y="530" width="30" height="10" fill="#a50026"/><rect x="230" y="530" width="10" height="10" fill="#74add1"/><rect x="240" y="530" width="10" height="10" fill="#e0f3f8"/><rect x="250" y="530" width="50" height="10" fill="#313695"/><rect x="300" y="530" width="10" height="10" fill="#ffffff"/><rect x="310" y="530" width="10" height="10" fill="#fdae61"/><rect x="320" y="530" width="10" height="10" fill="#ffffff"/><rect x="330" y="530" width="30" height="10" fill="#fdae61"/><rect x="360" y="530" width="10" height="10" fill="#f46d43"/><rect x="370" y="530" width="10" height="10" fill="#fdae61"/><rect x="380" y="530" width="10" height="10" fill="#e0f3f8"/><rect x="390" y="530" width="30" height="10" fill="#313695"/><rect x="420" y="530" width="10" height="10" fill="#4575b4"/><rect x="430" y="530" width="20" height="10" fill="#abd9e9"/><rect x="450" y="530" width="30" height="10" fill="#74add1"/><rect x="480" y="530" width="10" height="10" fill="#abd9e9"/><rect x="490" y="530" width="70" height="10" fill="#313695"/><rect x="560" y="530" width="190" height="10" fill="#74add1"/><rect x="750" y="530" width="20" height="10" fill="#d73027"/><rect x="770" y="530" width="30" height="10" fill="#f46d43"/><rect x="100" y="540" width="30" height="10" fill="#a50026"/><rect x="130" y="540" width="50" height="10" fill="#abd9e9"/><rect x="180" y="540" width="10" height="10" fill="#ffffff"/><rect x="190" y="540" width="10" height="10" fill="#d73027"/><rect x="200" y="540" width="10" height="10" fill="#fdae61"/><rect x="210" y="540" width="10" height="10" fill="#f46d43"/><rect x="220" y="540" width="10" height="10" fill="#a50026"/><rect x="230" y="540" width="10" height="10" fill="#f46d43"/><rect x="240" y="540" width="10" height="10" fill="#a50026"/><rect x="250" y="540" width="10" height="10" fill="#abd9e9"/><rect x="260" y="540" width="40" height="10" fill="#313695"/><rect x="300" y="540" width="10" height="10" fill="#fdae61"/><rect x="310" y="540" width="10" height="10" fill="#f46d43"/><rect x="320" y="540" width="20" height="10" fill="#d73027"/><rect x="340" y="540" width="30" height="10" fill="#fdae61"/><rect x="370" y="540" width="10" height="10" fill="#f46d43"/><rect x="380" y="540" width="10" height="10" fill="#d73027"/><rect x="390" y="540" width="10" height="10" fill="#f46d43"/><rect x="400" y="540" width="10" height="10" fill="#74add1"/><rect x="410" y="540" width="10" height="10" fill="#4575b4"/><rect x="420" y="540" width="10" height="10" fill="#74add1"/><rect x="430" y="540" width="10" height="10" fill="#313695"/><rect x="440" y="540" width="10" height="10" fill="#74add1"/><rect x="450" y="540" width="20" height="10" fill="#e0f3f8"/><rect x="470" y="540" width="10" height="10" fill="#abd9e9"/><rect x="480" y="540" width="10" height="10" fill="#e0f3f8"/><rect x="490" y="540" width="10" height="10" fill="#74add1"/><rect x="500" y="540" width="10" height="10" fill="#4575b4"/><rect x="510" y="540" width="10" height="10" fill="#74add1"/><rect x="520" y="540" width="40" height="10" fill="#313695"/><rect x="560" y="540" width="210" height="10" fill="#74add1"/><rect x="770" y="540" width="30" height="10" fill="#f46d43"/><rect x="100" y="550" width="20" height="10" fill="#a50026"/><rect x="120" y="550" width="60" height="10" fill="#fdae61"/><rect x="180" y="550" width="20" height="10" fill="#f46d43"/><rect x="200" y="550" width="30" height="10" fill="#313695"/><rect x="230" y="550" width="10" height="10" fill="#4575b4"/><rect x="240" y="550" width="10" height="10" fill="#74add1"/><rect x="250" y="550" width="20" height="10" fill="#abd9e9"/><rect x="270" y="550" width="20" height="10" fill="#4575b4"/><rect x="290" y="550" width="10" height="10" fill="#fee090"/><rect x="300" y="550" width="40" height="10" fill="#a50026"/><rect x="340" y="550" width="10" height="10" fill="#d73027"/><rect x="350" y="550" width="10" height="10" fill="#f46d43"/><rect x="360" y="550" width="10" height="10" fill="#fdae61"/><rect x="370" y="550" width="10" height="10" fill="#f46d43"/><rect x="380" y="550" width="20" height="10" fill="#fdae61"/><rect x="400" y="550" width="10" height="10" fill="#e0f3f8"/><rect x="410" y="550" width="10" height="10" fill="#4575b4"/><rect x="420" y="550" width="10" height="10" fill="#74add1"/><rect x="430" y="550" width="10" height="10" fill="#4575b4"/><rect x="440" y="550" width="10" height="10" fill="#74add1"/><rect x="450" y="550" width="30" height="10" fill="#e0f3f8"/><rect x="480" y="550" width="10" height="10" fill="#fdae61"/><rect x="490" y="550" width="10" height="10" fill="#e0f3f8"/><rect x="500" y="550" width="70" height="10" fill="#313695"/><rect x="570" y="550" width="210" height="10" fill="#74add1"/><rect x="780" y="550" width="20" height="10" fill="#f46d43"/><rect x="100" y="560" width="10" height="10" fill="#a50026"/><rect x="110" y="560" width="80" height="10" fill="#fdae61"/><rect x="190" y="560" width="10" height="10" fill="#74add1"/><rect x="200" y="560" width="10" height="10" fill="#4575b4"/><rect x="210" y="560" width="10" height="10" fill="#abd9e9"/><rect x="220" y="560" width="10" height="10" fill="#4575b4"/><rect x="230" y="560" width="20" height="10" fill="#313695"/><rect x="250" y="560" width="10" height="10" fill="#fdae61"/><rect x="260" y="560" width="10" height="10" fill="#f46d43"/><rect x="270" y="560" width="10" height="10" fill="#e0f3f8"/><rect x="280" y="560" width="10" height="10" fill="#abd9e9"/><rect x="290" y="560" width="10" height="10" fill="#f46d43"/><rect x="300" y="560" width="10" height="10" fill="#d73027"/><rect x="310" y="560" width="10" height="10" fill="#f46d43"/><rect x="320" y="560" width="20" height="10" fill="#fdae61"/><rect x="340" y="560" width="20" height="10" fill="#d73027"/><rect x="360" y="560" width="40" height="10" fill="#fdae61"/><rect x="400" y="560" width="10" height="10" fill="#e0f3f8"/><rect x="410" y="560" width="10" height="10" fill="#4575b4"/><rect x="420" y="560" width="10" height="10" fill="#74add1"/><rect x="430" y="560" width="10" height="10" fill="#4575b4"/><rect x="440" y="560" width="10" height="10" fill="#74add1"/><rect x="450" y="560" width="30" height="10" fill="#e0f3f8"/><rect x="480" y="560" width="10" height="10" fill="#fdae61"/><rect x="490" y="560" width="10" height="10" fill="#e0f3f8"/><rect x="500" y="560" width="80" height="10" fill="#313695"/><rect x="580" y="560" width="210" height="10" fill="#74add1"/><rect x="790" y="560" width="10" height="10" fill="#f46d43"/><rect x="100" y="570" width="70" height="10" fill="#fdae61"/><rect x="170" y="570" width="50" height="10" fill="#d73027"/><rect x="220" y="570" width="20" height="10" fill="#abd9e9"/><rect x="240" y="570" width="40" height="10" fill="#313695"/><rect x="280" y="570" width="10" height="10" fill="#4575b4"/><rect x="290" y="570" width="10" height="10" fill="#fee090"/><rect x="300" y="570" width="10" height="10" fill="#d73027"/><rect x="310" y="570" width="10" height="10" fill="#fee090"/><rect x="320" y="570" width="10" height="10" fill="#74add1"/><rect x="330" y="570" width="10" height="10" fill="#4575b4"/><rect x="340" y="570" width="50" height="10" fill="#d73027"/><rect x="390" y="570" width="10" height="10" fill="#fdae61"/><rect x="400" y="570" width="10" height="10" fill="#e0f3f8"/><rect x="410" y="570" width="10" height="10" fill="#4575b4"/><rect x="420" y="570" width="10" height="10" fill="#74add1"/><rect x="430" y="570" width="10" height="10" fill="#4575b4"/><rect x="440" y="570" width="10" height="10" fill="#74add1"/><rect x="450" y="570" width="30" height="10" fill="#e0f3f8"/><rect x="480" y="570" width="10" height="10" fill="#fdae61"/><rect x="490" y="570" width="10" height="10" fill="#e0f3f8"/><rect x="500" y="570" width="90" height="10" fill="#313695"/><rect x="590" y="570" width="210" height="10" fill="#74add1"/><rect x="100" y="580" width="50" height="10" fill="#fdae61"/><rect x="150" y="580" width="140" height="10" fill="#313695"/><rect x="290" y="580" width="10" height="10" fill="#fdae61"/><rect x="300" y="580" width="10" height="10" fill="#d73027"/><rect x="310" y="580" width="10" height="10" fill="#fee090"/><rect x="320" y="580" width="10" height="10" fill="#74add1"/><rect x="330" y="580" width="10" height="10" fill="#4575b4"/><rect x="340" y="580" width="60" height="10" fill="#d73027"/><rect x="400" y="580" width="10" height="10" fill="#e0f3f8"/><rect x="410" y="580" width="10" height="10" fill="#4575b4"/><rect x="420" y="580" width="10" height="10" fill="#74add1"/><rect x="430" y="580" width="10" height="10" fill="#4575b4"/><rect x="440" y="580" width="10" height="10" fill="#74add1"/><rect x="450" y="580" width="30" height="10" fill="#e0f3f8"/><rect x="480" y="580" width="10" height="10" fill="#fdae61"/><rect x="490" y="580" width="10" height="10" fill="#e0f3f8"/><rect x="500" y="580" width="90" height="10" fill="#313695"/><rect x="590" y="580" width="210" height="10" fill="#74add1"/><rect x="100" y="590" width="40" height="10" fill="#fdae61"/><rect x="140" y="590" width="110" height="10" fill="#313695"/><rect x="250" y="590" width="10" height="10" fill="#74add1"/><rect x="260" y="590" width="30" height="10" fill="#313695"/><rect x="290" y="590" width="10" height="10" fill="#fdae61"/><rect x="300" y="590" width="10" height="10" fill="#d73027"/><rect x="310" y="590" width="10" height="10" fill="#fee090"/><rect x="320" y="590" width="10" height="10" fill="#74add1"/><rect x="330" y="590" width="10" height="10" fill="#4575b4"/><rect x="340" y="590" width="70" height="10" fill="#d73027"/><rect x="410" y="590" width="10" height="10" fill="#4575b4"/><rect x="420" y="590" width="10" height="10" fill="#74add1"/><rect x="430" y="590" width="10" height="10" fill="#4575b4"/><rect x="440" y="590" width="10" height="10" fill="#74add1"/><rect x="450" y="590" width="30" height="10" fill="#e0f3f8"/><rect x="480" y="590" width="10" height="10" fill="#fdae61"/><rect x="490" y="590" width="10" height="10" fill="#e0f3f8"/><rect x="500" y="590" width="100" height="10" fill="#313695"/><rect x="600" y="590" width="200" height="10" fill="#74add1"/><rect x="100" y="600" width="10" height="10" fill="#fdae61"/><rect x="110" y="600" width="180" height="10" fill="#313695"/><rect x="290" y="600" width="10" height="10" fill="#fdae61"/><rect x="300" y="600" width="10" height="10" fill="#d73027"/><rect x="310" y="600" width="10" height="10" fill="#fee090"/><rect x="320" y="600" width="10" height="10" fill="#74add1"/><rect x="330" y="600" width="10" height="10" fill="#4575b4"/><rect x="340" y="600" width="80" height="10" fill="#d73027"/><rect x="420" y="600" width="10" height="10" fill="#74add1"/><rect x="430" y="600" width="10" height="10" fill="#4575b4"/><rect x="440" y="600" width="10" height="10" fill="#74add1"/><rect x="450" y="600" width="30" height="10" fill="#e0f3f8"/><rect x="480" y="600" width="10" height="10" fill="#fdae61"/><rect x="490" y="600" width="10" height="10" fill="#e0f3f8"/><rect x="500" y="600" width="100" height="10" fill="#313695"/><rect x="600" y="600" width="200" height="10" fill="#74add1"/></g>
<path d="M111.1,341.1 L114.4,337.8 L121.1,334.4 L123.9,331.1 L123.9,326.7 L126.7,322.2 L130.0,318.3 L137.8,316.7 L141.1,320.0 L142.8,325.6 L147.8,325.0 L150.6,330.0 L148.9,334.4 L151.1,340.0 L151.7,344.4 L160.0,345.6 L162.2,347.8 L172.2,347.2 L180.0,352.2 L192.2,351.7 L197.8,350.6 L200.0,350.0 L213.3,350.6 L216.7,352.2 L222.2,355.6 L226.7,353.3 L227.8,346.7 L236.7,342.2 L238.9,336.7 L251.1,334.4 L257.8,332.2 L257.8,181.1 L264.4,186.7 L268.9,187.8 L275.6,194.4 L277.8,200.0 L283.3,208.9 L285.6,211.1 L284.4,213.3 L286.7,221.1 L291.1,225.6 L292.2,237.8 L288.9,242.2 L283.3,251.1 L283.3,260.0 L284.4,267.8 L286.7,270.0 L293.3,265.6 L298.9,266.7 L314.0,266.0 L329.5,264.2 L345.0,254.5 L350.0,247.8 L355.6,243.3 L361.1,240.0 L366.7,235.6 L371.1,226.7 L373.3,215.6 L377.8,207.8 L382.2,203.3 L388.9,202.8 L400.0,202.8 L405.6,206.7 L413.3,211.1 L420.0,217.8 L431.1,217.8 L435.6,221.1 L442.2,221.7 L450.0,224.4 L456.7,224.4 L464.4,221.7 L480.0,222.2 L487.8,216.7 L491.1,208.9 L493.3,202.2 L497.8,193.3 L501.1,185.6 L500.0,181.1 L503.3,179.4 L522.2,176.7 L527.8,168.9 L533.3,164.4 L540.6,160.0 L541.1,154.4 L544.4,140.0 L546.7,135.6 L552.2,131.1 L560.0,126.1 L568.9,124.4 L571.1,118.3 L577.8,115.6 L584.4,112.2 L585.6,106.7 L588.9,102.2 L594.4,96.7 L600.0,92.2 L610.0,90.0 L616.7,88.3 L625.6,85.6 L627.8,77.8 L630.0,76.1 L637.8,75.0 L646.7,74.4 L655.6,72.8 L664.4,74.4 L673.3,79.4 L682.2,81.7 L688.9,80.6 L700.0,80.6 L710.0,80.5 L717.8,80.6 L724.4,83.3 L726.7,92.2 L733.3,111.0 L735.0,118.9 L734.4,126.7 L740.0,133.3 L741.1,142.2 L747.8,148.9 L750.0,160.0 L753.4,172.8 L753.4,196.0 L751.4,231.0 L747.8,233.3 L738.9,227.8 L730.0,221.7 L725.6,221.7 L716.7,228.9 L711.1,241.1 L704.4,250.0 L703.3,260.0 L702.8,262.2 L706.7,266.1 L711.1,270.0 L712.2,274.4 L720.0,282.2 L730.0,286.1 L751.7,286.1 L752.8,266.7 L790.0,268.3 L787.8,277.8 L780.0,297.8 L776.7,315.6 L771.1,330.0 L770.0,336.7 L763.3,342.2 L754.4,348.9 L750.0,353.3 L744.4,354.4 L731.1,366.7 L716.7,383.3 L712.2,394.4 L705.6,402.2 L700.0,412.2 L691.1,424.4 L682.2,435.6 L677.0,443.0 L671.1,448.9 L662.5,457.6 L658.9,460.0 L646.7,466.7 L637.8,476.7 L626.7,487.8 L615.6,497.8 L604.4,507.8 L592.2,514.4 L582.2,522.2 L571.1,530.0 L560.0,537.8 L543.3,546.7 L526.7,553.3 L517.8,553.3 L507.8,551.1 L496.7,552.2 L490.0,557.8 L460.0,562.0 L458.0,568.0 L447.0,568.0 L413.0,565.0 L380.0,566.7 L377.8,566.1 L364.4,562.8 L360.0,565.6 L348.9,565.6 L346.7,570.0 L337.8,573.3 L335.6,577.8 L327.8,579.4 L320.0,577.8 L311.1,581.7 L304.4,578.9 L294.4,578.9 L290.0,581.7 L280.0,582.2 L276.7,584.4 L268.9,590.0 L261.1,594.4 L257.8,597.8 L252.2,595.6 L243.3,595.6 L240.0,592.2 L234.4,588.9 L230.0,588.9 L232.2,585.6 L227.8,580.0 L222.2,581.1 L218.9,578.3 L210.0,578.9 L210.0,572.2 L207.8,567.2 L197.8,567.2 L194.4,570.0 L194.4,578.3 L192.2,575.6 L188.9,570.0 L187.8,564.4 L191.1,560.0 L195.6,556.7 L192.2,548.9 L185.6,540.0 L180.0,535.6 L176.7,527.8 L171.1,523.3 L170.0,514.4 L172.2,509.4 L176.7,511.1 L182.2,512.2 L188.9,502.2 L187.8,482.2 L184.4,470.0 L176.7,460.0 L170.0,453.3 L162.2,440.0 L154.4,428.9 L144.4,410.0 L142.2,400.0 L137.8,387.8 L133.3,376.7 L127.8,367.8 L125.6,360.0 L118.9,352.2 L116.7,346.7 Z" fill="none" stroke="#000" stroke-width="2" stroke-linejoin="round"/>
<path d="M547.5,383.3 L560.0,376.7 L566.7,368.3 L578.3,353.3 L590.0,348.3 L595.0,344.2 L603.3,341.7 L615.0,339.2 L618.3,343.3 L626.7,350.0 L633.3,355.0 L643.3,363.3 L648.3,371.7 L643.3,378.3 L636.7,385.0 L635.8,393.3 L633.3,396.7 L623.3,400.0 L613.3,402.5 L603.3,404.2 L598.3,410.0 L596.7,416.7 L593.3,425.0 L583.3,425.0 L575.0,420.0 L565.0,410.8 L561.7,405.0 L555.0,396.7 L550.0,388.3 Z" fill="none" stroke="#000" stroke-width="2" stroke-linejoin="round"/>
<g fill="none" stroke="#000" stroke-width="1" stroke-linejoin="round"><polyline points="163.3,436.7 173.3,430.0 183.3,426.7 191.7,418.3 198.3,416.7 206.7,423.3 213.3,426.7 215.0,446.7 218.3,463.3 220.0,476.7 231.7,480.0 236.7,493.3 240.0,500.0 250.0,496.7 263.3,490.0 266.7,493.3 261.7,500.0 266.7,511.7 276.7,518.3 288.3,516.7 293.3,510.0 306.7,503.3 323.3,490.0 340.0,483.3 350.0,466.7 353.3,463.3 366.7,470.0 386.7,478.3 400.0,470.0 413.3,466.7 426.7,471.7 443.3,463.3 455.0,456.0 463.1,450.2 480.4,444.5 486.2,435.8 483.3,424.2"/><polyline points="431.0,471.0 431.0,481.0 409.0,492.0 393.0,500.0 391.0,513.0 383.0,524.0 372.0,535.0 383.0,540.0 404.0,545.0 409.0,556.0 411.0,566.0"/><polyline points="369.4,236.7 369.4,250.0 372.8,251.7 376.7,244.4 377.8,238.9 381.7,236.7 385.6,236.1 385.6,232.2 396.7,232.2 397.2,235.6 391.1,236.7 394.4,239.4 391.7,243.9 392.8,253.3 402.2,260.0 403.3,264.4 416.7,268.9 424.4,274.4 418.9,284.4 426.7,290.0 424.4,297.8 427.8,304.4 441.1,303.3 438.9,311.1 445.6,318.9 451.1,308.9 454.4,300.0 465.6,302.8 457.8,313.3 461.3,318.7 466.7,317.3"/><polyline points="466.7,317.3 460.0,329.3 457.3,340.0 451.1,360.0 437.8,384.4 440.0,390.0 455.6,397.8 465.6,408.9 483.3,423.3"/><polyline points="483.3,424.2 497.8,421.3 518.0,418.4 532.4,424.2 549.8,418.4 564.2,409.8"/><polyline points="466.7,317.3 474.7,308.0 484.0,302.7 492.0,301.3 497.3,298.0 505.3,301.3 508.0,302.7 509.3,298.7 517.3,292.0 525.3,290.0 524.0,282.7 530.7,274.7 537.3,272.0 544.0,270.0 554.7,272.7 560.0,268.0 569.1,264.4 586.4,264.4 595.1,270.2 606.7,273.1 621.1,273.1 635.6,278.9 647.1,287.6 655.6,294.4"/><polyline points="655.6,294.4 661.1,296.7 657.8,302.2 660.0,307.8 654.4,322.2 646.7,328.9 636.7,335.6 624.4,345.6"/><polyline points="655.6,294.4 676.0,290.4 693.3,286.1 707.8,287.6 722.2,284.7"/><polyline points="633.6,398.2 639.3,409.8 636.4,421.3 648.0,427.1 665.3,432.9 677.0,442.0"/><polyline points="522.9,176.3 534.4,182.1 540.0,181.8 547.8,180.2 555.6,191.1 571.1,191.1 586.7,194.2 594.4,195.8 599.1,200.4 605.3,198.9 613.1,191.1 625.6,188.0 627.1,192.7 633.3,197.3 636.4,205.1 648.9,208.2 661.3,205.1 672.2,198.9 676.9,191.1 687.6,186.4 699.1,180.7 702.0,172.0 710.0,173.3 721.1,172.2 720.0,163.3 714.4,160.0 715.6,153.3 720.0,151.1 742.2,151.1 745.0,149.0"/><polyline points="586.7,194.2 586.7,206.7 588.2,214.4 585.1,222.2 578.9,226.9 571.1,225.3 564.9,228.4 560.2,239.3 555.6,250.2 560.2,258.0 571.1,261.1 586.7,262.7"/><polyline points="614.7,192.0 613.1,206.7 614.7,217.5 622.4,219.1 627.1,212.9 631.8,212.9 630.2,219.1 625.6,223.8 617.8,231.5 610.0,236.2 608.4,240.9 616.2,245.6 622.4,248.7 617.8,254.9 610.0,259.6 602.2,265.8 599.1,268.9"/></g>
</svg>
<div class="t" style="left:20px;top:659px;font-size:18px;font-weight:bold;">Precipitation anomaly</div>
<div class="t" style="left:20px;top:689px;font-size:18px;">Relative difference</div>
<div class="t" style="left:20px;top:719px;font-size:18px;">to Long Term Average</div>
<div class="t" style="left:20px;top:749px;font-size:18px;">Dekad 2 March 2026</div>
<div class="t" style="left:20px;top:779px;font-size:18px;">FEWS NET RFE</div>
<div class="t" style="left:20px;top:809px;font-size:18px;">WGS84, Geographic Lat/Lon</div>

<div class="t" style="left:470px;top:653px;font-size:14px;font-weight:bold;text-decoration:underline;letter-spacing:0.64px;">Difference to LTA</div>
<div class="sw" style="top:671px;background:#a50026"></div><div class="lab" style="top:674px">&lt; -80%</div>
<div class="sw" style="top:688px;background:#d73027"></div><div class="lab" style="top:691px">&lt; -60%</div>
<div class="sw" style="top:705px;background:#f46d43"></div><div class="lab" style="top:708px">&lt; -40%</div>
<div class="sw" style="top:722px;background:#fdae61"></div><div class="lab" style="top:725px">&lt; -20%</div>
<div class="sw" style="top:739px;background:#fee090"></div><div class="lab" style="top:742px">&lt; -10%</div>
<div class="lab" style="top:759px">Normal</div>
<div class="sw" style="top:773px;background:#e0f3f8"></div><div class="lab" style="top:776px">&gt; 10%</div>
<div class="sw" style="top:790px;background:#abd9e9"></div><div class="lab" style="top:793px">&gt; 20%</div>
<div class="sw" style="top:807px;background:#74add1"></div><div class="lab" style="top:810px">&gt; 40%</div>
<div class="sw" style="top:824px;background:#4575b4"></div><div class="lab" style="top:827px">&gt; 60%</div>
<div class="sw" style="top:841px;background:#313695"></div><div class="lab" style="top:844px">&gt; 80%</div>
<div class="sw" style="top:869px;background:#686868"></div><div class="lab" style="top:872px">no data</div>
<div class="sw" style="top:886px;background:#9c9c9c"></div><div class="lab" style="top:889px">LTA=0</div>
<div class="sw" style="top:903px;background:#c8c8c8"></div><div class="lab" style="top:906px">desert</div>

<svg style="position:absolute;left:668px;top:726px" width="68" height="68" viewBox="0 0 900 900">
<circle cx="437" cy="435" r="355" fill="none" stroke="#111" stroke-width="38"/>
<g font-family="Liberation Sans" font-weight="bold" fill="#111" stroke="#111" stroke-width="6" text-anchor="middle">
<text x="198" y="460" font-size="192">F</text>
<text x="435" y="292" font-size="192">A</text>
<text x="675" y="460" font-size="192">O</text>
</g>
<g fill="none" stroke="#111" stroke-width="28" stroke-linecap="butt">
<path d="M232,180 L435,580 L640,180"/>
<path d="M285,172 L435,480 L592,172"/>
</g>
<path d="M435,300 C472,345 470,385 435,390 C400,385 398,345 435,300 Z" fill="#111"/>
<path d="M375,395 L435,445 L495,395 L500,440 Q435,520 370,440 Z" fill="#111"/>
<path d="M360,470 L435,535 L510,470 L515,520 Q435,610 355,520 Z" fill="#111"/>
<path d="M350,540 L435,600 L520,540 Q535,640 435,655 Q335,640 350,540 Z" fill="#111"/>
<rect x="424" y="640" width="24" height="150" fill="#111"/>
<defs><path id="arcL" d="M150,545 A305,305 0 0 0 395,750"/><path id="arcR" d="M485,750 A305,305 0 0 0 735,515"/></defs>
<g font-family="Liberation Sans" font-weight="bold" font-size="80" fill="#111" letter-spacing="18">
<text><textPath href="#arcL">FIAT</textPath></text>
<text><textPath href="#arcR">PANIS</textPath></text>
</g>
</svg>
<div class="t" style="left:739px;top:736px;font-size:15px;font-weight:bold;color:#1a1a1a;transform:scaleX(0.916);transform-origin:0 0;">Food and Agriculture</div>
<div class="t" style="left:739px;top:753px;font-size:15px;font-weight:bold;color:#1a1a1a;transform:scaleX(0.941);transform-origin:0 0;">Organization of the</div>
<div class="t" style="left:739px;top:771px;font-size:15px;font-weight:bold;color:#1a1a1a;transform:scaleX(0.93);transform-origin:0 0;">United Nations</div>
<div style="position:absolute;left:673px;top:801px;width:214px;height:2px;background:#1a1a1a"></div>
<div class="t" style="left:673px;top:815px;font-size:14px;color:#2a2a2a;transform:scaleX(1.048);transform-origin:0 0;">Global Information and Early</div>
<div class="t" style="left:673px;top:833px;font-size:14px;color:#2a2a2a;transform:scaleX(0.984);transform-origin:0 0;">Warning System – GIEWS</div>


<div class="t" style="left:15px;top:911px;font-size:11.5px;letter-spacing:0.17px;">Disclaimer: The boundaries and names shown and the designations used on this map do not imply the expression of any opinion whatsoever on the part of FAO</div>
<div class="t" style="left:15px;top:925px;font-size:11.5px;letter-spacing:0.24px;">concerning the legal status of any country, territory, area or of its authorities, or concerning the delimitation of its frontiers and boundaries.</div>
</body></html>
